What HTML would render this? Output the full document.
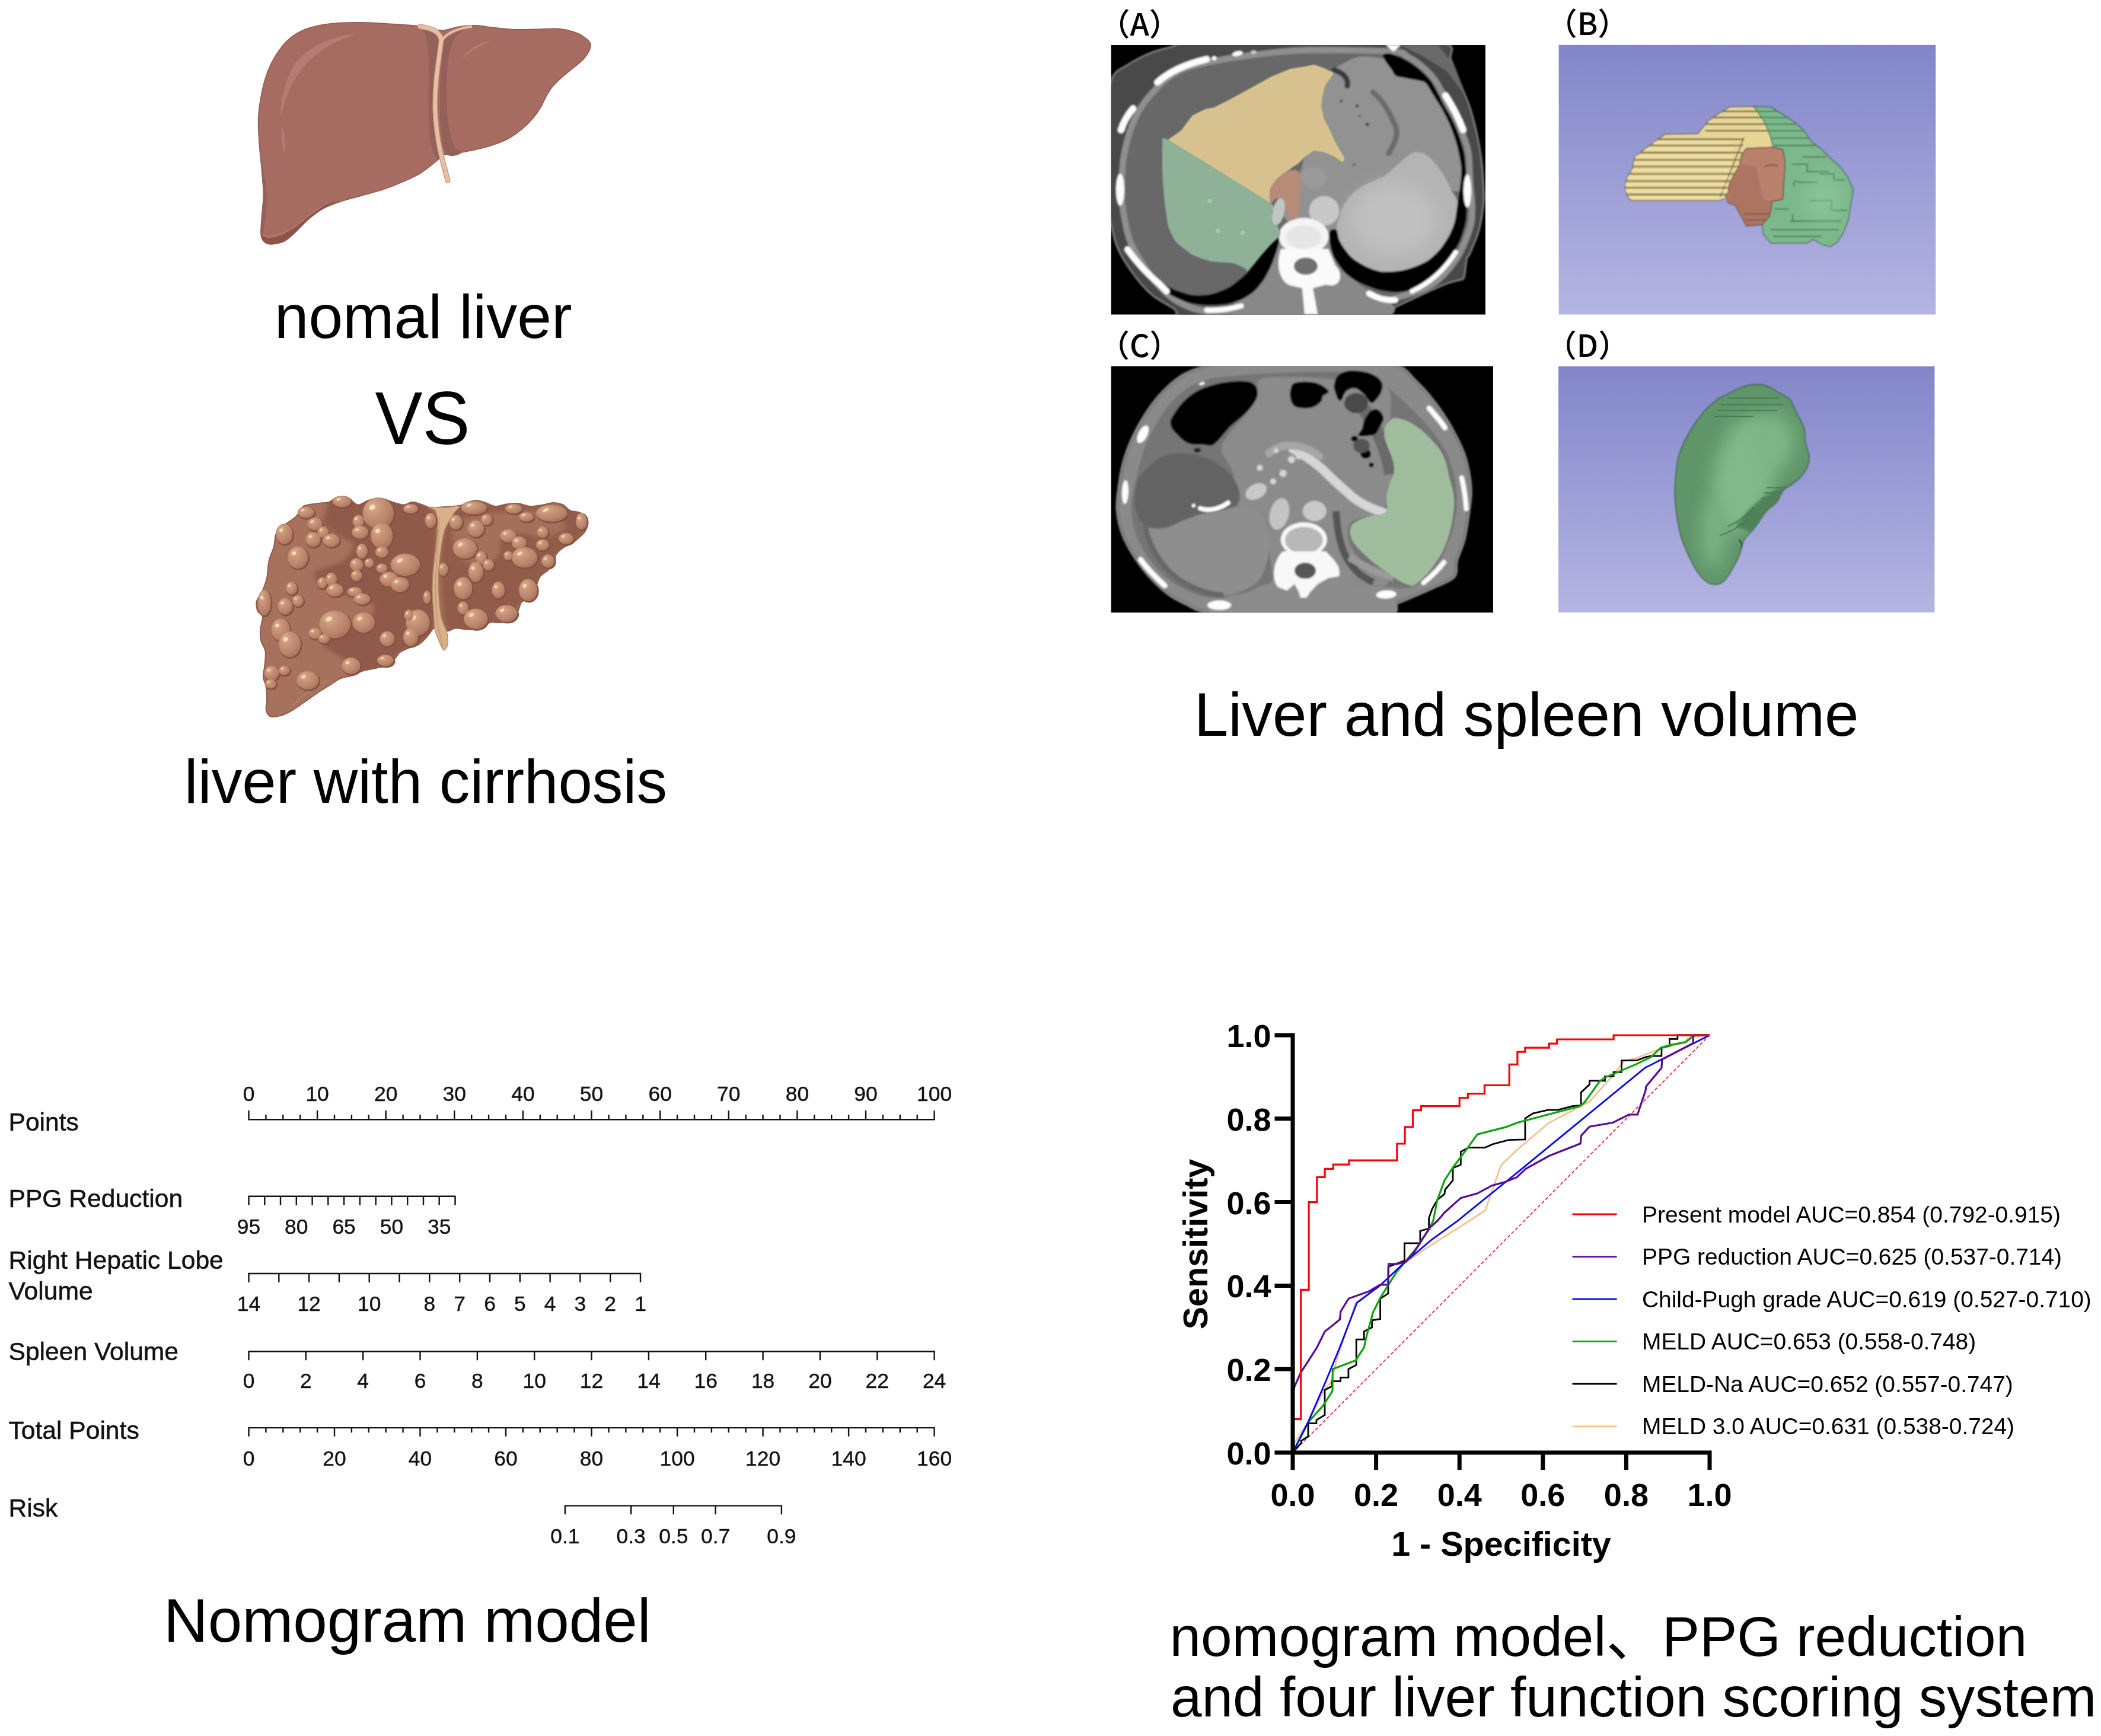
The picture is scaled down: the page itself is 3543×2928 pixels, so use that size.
<!DOCTYPE html>
<html lang="en"><head><meta charset="utf-8"><title>Graphical abstract</title>
<style>html,body{margin:0;padding:0;background:#fff}svg{display:block}</style></head><body>
<svg xmlns="http://www.w3.org/2000/svg" width="3543" height="2928" viewBox="0 0 3543 2928">
<rect width="3543" height="2928" fill="#fff"/>
<defs><filter id="b2" x="-5%" y="-5%" width="110%" height="110%"><feGaussianBlur stdDeviation="5"/></filter><filter id="b1" x="-5%" y="-5%" width="110%" height="110%"><feGaussianBlur stdDeviation="2.5"/></filter><filter id="b4" x="-20%" y="-20%" width="140%" height="140%"><feGaussianBlur stdDeviation="12"/></filter><filter id="b8" x="-30%" y="-30%" width="160%" height="160%"><feGaussianBlur stdDeviation="28"/></filter><filter id="c2" x="-5%" y="-5%" width="110%" height="110%"><feGaussianBlur stdDeviation="1.7"/></filter><filter id="c1" x="-5%" y="-5%" width="110%" height="110%"><feGaussianBlur stdDeviation="0.9"/></filter><filter id="c6" x="-40%" y="-40%" width="180%" height="180%"><feGaussianBlur stdDeviation="14"/></filter><clipPath id="cpA"><rect x="123" y="215" width="1795" height="1320"/></clipPath><clipPath id="cpC"><rect x="123" y="218" width="1830" height="1182"/></clipPath><linearGradient id="sky" x1="0" y1="0" x2="0" y2="1"><stop offset="0" stop-color="#8286c9"/><stop offset="1" stop-color="#b4b5e2"/></linearGradient></defs>
<g transform="translate(400,0) scale(0.30462)">
<path d="M572,126.7C611,124 646,123.3 689,124C732,124.7 783.2,128.2 830,131C876.8,133.8 934.2,137.2 970,140.5C1005.8,143.8 1017.3,146.4 1045,151C1072.7,155.6 1105.7,168.5 1136,168C1166.3,167.5 1196.7,152.6 1227,148C1257.3,143.4 1287.8,140 1318,140.5C1348.2,141 1372.7,147.2 1408,151C1443.3,154.8 1489.7,161.2 1530,163C1570.3,164.8 1609.7,162.7 1650,162C1690.3,161.3 1736.7,156.3 1772,158.6C1807.3,160.8 1836.8,167.6 1862,175.5C1887.2,183.4 1907.3,194.9 1923,206C1938.7,217.1 1952,228.9 1956,242C1960,255.1 1953.5,270.3 1947,284.5C1940.5,298.7 1931.2,311.9 1917,327C1902.8,342.1 1881.2,358.8 1862,375C1842.8,391.2 1821.2,406.8 1802,424C1782.8,441.2 1762.2,459.8 1747,478C1731.8,496.2 1722,513.8 1711,533C1700,552.2 1693.2,572.8 1681,593C1668.8,613.2 1655.2,633.8 1638,654C1620.8,674.2 1601.2,694.8 1578,714C1554.8,733.2 1527.3,753.8 1499,769C1470.7,784.2 1438.2,795 1408,805C1377.8,815 1348.2,822 1318,829C1287.8,836 1249.3,842.3 1227,847C1204.7,851.7 1198.5,855.2 1184,857C1169.5,858.8 1153.2,852.5 1140,858C1126.8,863.5 1125.3,873.5 1105,890C1084.7,906.5 1048.3,938 1018,957C987.7,976 958.3,988.5 923,1004C887.7,1019.5 845,1036.8 806,1050C767,1063.2 728,1072 689,1083C650,1094 607.2,1104.2 572,1116C536.8,1127.8 506.8,1138.3 478,1154C449.2,1169.7 424.8,1188.2 399,1210C373.2,1231.8 345,1264.7 323,1285C301,1305.3 285.7,1321.2 267,1332C248.3,1342.8 227.3,1347 211,1350C194.7,1353 180.8,1353.8 169,1350C157.2,1346.2 146.3,1337 140,1327C133.7,1317 131.7,1311.8 131,1290C130.3,1268.2 133.7,1231.3 136,1196C138.3,1160.7 145,1121 145,1078C145,1035 139.8,984.8 136,938C132.2,891.2 125.2,843.8 122,797C118.8,750.2 115.5,700 117,657C118.5,614 123.9,578.2 131,539C138.1,499.8 147,458.7 159.5,422C172,385.3 186.4,351.8 206,319C225.6,286.2 251.2,250 277,225C302.8,200 331.3,183.1 361,169C390.7,154.9 419.8,147.6 455,140.5C490.2,133.4 533,129.4 572,126.7Z" fill="#a66c61" stroke="#94594f" stroke-width="5"/>
<path d="M136,1300C141.8,1298.5 157.7,1317.2 175,1318C192.3,1318.8 217.5,1314.3 240,1305C262.5,1295.7 285,1280.3 310,1262C335,1243.7 363.3,1214.5 390,1195C416.7,1175.5 441.7,1158.8 470,1145C498.3,1131.2 558.7,1110.5 560,1112C561.3,1113.5 504.8,1137.7 478,1154C451.2,1170.3 424.8,1188.2 399,1210C373.2,1231.8 345,1264.7 323,1285C301,1305.3 285.7,1321.2 267,1332C248.3,1342.8 227.3,1347 211,1350C194.7,1353 180.8,1353.8 169,1350C157.2,1346.2 145.5,1335.3 140,1327C134.5,1318.7 130.2,1301.5 136,1300Z" fill="#8f524b"/>
<path d="M136,1300C175,1318 240,1305 310,1262C360,1225 420,1170 470,1145" fill="none" stroke="#b77b72" stroke-width="6"/>
<path d="M122,800C135,900 160,1000 165,1100C160,1200 150,1260 140,1310C130,1280 136,1196 145,1078C140,980 126,880 122,800Z" fill="#98605a"/>
<path d="M1000,144C992.5,147.7 1029.7,159 1040,190C1050.3,221 1058.7,275 1062,330C1065.3,385 1060,455 1060,520C1060,585 1057.8,666.7 1062,720C1066.2,773.3 1075.3,814.7 1085,840C1094.7,865.3 1115.5,895.3 1120,872C1124.5,848.7 1115.7,762 1112,700C1108.3,638 1099.3,561.7 1098,500C1096.7,438.3 1100,375.8 1104,330C1108,284.2 1125.2,252 1122,225C1118.8,198 1105.3,181.5 1085,168C1064.7,154.5 1007.5,140.3 1000,144Z" fill="#94605a"/>
<path d="M1146,230C1135.7,265 1132,338.3 1128,400C1124,461.7 1120.8,536.7 1122,600C1123.2,663.3 1127.3,736.7 1135,780C1142.7,823.3 1150.5,849 1168,860C1185.5,871 1235.5,856 1240,846C1244.5,836 1207.5,832.7 1195,800C1182.5,767.3 1170.8,708.3 1165,650C1159.2,591.7 1158.3,510 1160,450C1161.7,390 1166.7,330.8 1175,290C1183.3,249.2 1195.5,226.7 1210,205C1224.5,183.3 1265.3,162.5 1262,160C1258.7,157.5 1209.3,178.3 1190,190C1170.7,201.7 1156.3,195 1146,230Z" fill="#94605a"/>
<path d="M661,188C525,200 400,255 325,345C270,430 240,540 242,650C262,545 300,455 360,380C430,295 530,230 661,188Z" fill="#b67c73"/>
<path d="M248,700C262,740 268,800 262,850C250,810 244,750 248,700Z" fill="#b67c73"/>
<path d="M1405,228C1335,235 1270,275 1245,330C1282,288 1338,252 1405,228Z" fill="#b67c73"/>
<path d="M1012,147C1070,155 1122,172 1130,222C1118,330 1092,450 1096,605C1100,730 1124,850 1150,940L1166,1000" fill="none" stroke="#c2917a" stroke-width="29" stroke-linecap="round"/>
<path d="M1300,147C1240,153 1168,174 1134,222" fill="none" stroke="#c2917a" stroke-width="18" stroke-linecap="butt"/>
<path d="M1012,147C1070,155 1122,172 1130,222C1118,330 1092,450 1096,605C1100,730 1124,850 1150,940L1166,1000" fill="none" stroke="#e6c0a4" stroke-width="21" stroke-linecap="round"/>
<path d="M1300,147C1240,153 1168,174 1134,222" fill="none" stroke="#e6c0a4" stroke-width="10" stroke-linecap="butt"/>
</g>
<defs><radialGradient id="nod" cx="0.38" cy="0.34" r="0.72" fx="0.3" fy="0.26"><stop offset="0" stop-color="#dcae8e"/><stop offset="0.35" stop-color="#c99679"/><stop offset="0.75" stop-color="#b9846b"/><stop offset="1" stop-color="#a5705b"/></radialGradient><clipPath id="cl2"><path d="M557,125.2C575.6,122.6 602,129.9 620.6,137.1C639.1,144.4 651,167.6 668.2,168.9C685.4,170.2 702.6,151 723.8,145.1C745,139.1 772.8,131.8 795.3,133.2C817.8,134.5 837.7,147.1 858.8,153C880,159 903.8,168.9 922.4,168.9C940.9,168.9 952.8,153 970,153C987.2,153 1009.7,163.6 1025.6,168.9C1041.5,174.2 1058.7,182.1 1065.3,184.8C1072,187.4 1053.4,185.5 1065.3,184.8C1077.2,184.1 1109,182.8 1136.8,180.8C1164.6,178.8 1208.3,177.5 1232.1,172.9C1255.9,168.2 1263.9,157.7 1279.8,153C1295.6,148.4 1311.5,144.4 1327.4,145.1C1343.3,145.7 1357.9,151.7 1375.1,157C1392.3,162.3 1410.8,175.5 1430.7,176.9C1450.5,178.2 1473,167.6 1494.2,164.9C1515.4,162.3 1536.6,159 1557.7,161C1578.9,163 1598.8,175.5 1621.3,176.9C1643.8,178.2 1671.6,172.2 1692.8,168.9C1713.9,165.6 1729.8,157 1748.4,157C1766.9,157 1788.1,161.6 1804,168.9C1819.8,176.2 1827.8,193.4 1843.7,200.7C1859.6,208 1884.7,205.3 1899.3,212.6C1913.8,219.9 1924.4,233.1 1931,244.4C1937.7,255.6 1940.3,267.5 1939,280.1C1937.7,292.7 1931,307.9 1923.1,319.8C1915.2,331.7 1903.2,341 1891.3,351.6C1879.4,362.2 1866.2,374.1 1851.6,383.4C1837.1,392.6 1818.5,396.6 1804,407.2C1789.4,417.8 1772.2,432.3 1764.2,446.9C1756.3,461.5 1764.2,480 1756.3,494.5C1748.4,509.1 1729.8,522.3 1716.6,534.3C1703.4,546.2 1687.5,551.5 1676.9,566C1666.3,580.6 1662.3,603.1 1653.1,621.6C1643.8,640.2 1634.5,662.7 1621.3,677.2C1608,691.8 1584.2,697.1 1573.6,709C1563,720.9 1565.7,734.1 1557.7,748.7C1549.8,763.3 1541.9,784.4 1526,796.4C1510.1,808.3 1483.6,816.2 1462.4,820.2C1441.3,824.2 1416.1,814.9 1398.9,820.2C1381.7,825.5 1379,845.3 1359.2,852C1339.3,858.6 1304.9,859.9 1279.8,859.9C1254.6,859.9 1226.8,850.6 1208.3,852C1189.7,853.3 1183.9,865.2 1168.6,867.8C1153.2,870.5 1129.4,870.5 1116.2,867.8C1102.9,865.2 1099,848 1089.2,852C1079.4,855.9 1070.6,877.1 1057.4,891.7C1044.2,906.2 1028.3,927.4 1009.7,939.3C991.2,951.2 964.7,955.2 946.2,963.2C927.7,971.1 910.5,977.7 898.6,987C886.6,996.2 886.6,1006.8 874.7,1018.7C862.8,1030.7 845.6,1049.2 827.1,1058.5C808.5,1067.7 786,1069 763.5,1074.3C741,1079.6 713.2,1083.6 692,1090.2C670.9,1096.8 656.3,1107.4 636.5,1114.1C616.6,1120.7 594.1,1120.7 572.9,1129.9C551.7,1139.2 530.6,1156.4 509.4,1169.7C488.2,1182.9 469.7,1193.5 445.8,1209.4C422,1225.3 391.6,1247.8 366.4,1265C341.3,1282.2 316.1,1300.7 294.9,1312.6C273.7,1324.5 257.9,1331.8 239.3,1336.4C220.8,1341.1 197,1345.7 183.7,1340.4C170.5,1335.1 163.2,1318.6 159.9,1304.7C156.6,1290.8 163.9,1278.2 163.9,1257C163.9,1235.8 163.2,1200.1 159.9,1177.6C156.6,1155.1 145.3,1141.9 144,1122C142.7,1102.1 150,1082.3 152,1058.5C154,1034.6 159.2,1001.5 155.9,979C152.6,956.5 136.7,943.3 132.1,923.4C127.5,903.6 126.8,882.4 128.1,859.9C129.5,837.4 142.7,805.6 140.1,788.4C137.4,771.2 117.5,771.2 112.3,756.6C107,742.1 104.3,718.3 108.3,701.1C112.3,683.8 126.8,674.6 136.1,653.4C145.3,632.2 157.3,603.1 163.9,574C170.5,544.9 169.2,507.8 175.8,478.7C182.4,449.5 197,424.4 203.6,399.2C210.2,374.1 205.6,347.6 215.5,327.8C225.4,307.9 244.6,296 263.2,280.1C281.7,264.2 309.5,249.7 326.7,232.5C343.9,215.2 346.6,188.8 366.4,176.9C386.3,164.9 422,164.9 445.8,161C469.7,157 490.8,159 509.4,153C527.9,147.1 538.5,127.9 557,125.2Z"/></clipPath></defs>
<g transform="translate(400,800) scale(0.30462)">
<path d="M557,125.2C575.6,122.6 602,129.9 620.6,137.1C639.1,144.4 651,167.6 668.2,168.9C685.4,170.2 702.6,151 723.8,145.1C745,139.1 772.8,131.8 795.3,133.2C817.8,134.5 837.7,147.1 858.8,153C880,159 903.8,168.9 922.4,168.9C940.9,168.9 952.8,153 970,153C987.2,153 1009.7,163.6 1025.6,168.9C1041.5,174.2 1058.7,182.1 1065.3,184.8C1072,187.4 1053.4,185.5 1065.3,184.8C1077.2,184.1 1109,182.8 1136.8,180.8C1164.6,178.8 1208.3,177.5 1232.1,172.9C1255.9,168.2 1263.9,157.7 1279.8,153C1295.6,148.4 1311.5,144.4 1327.4,145.1C1343.3,145.7 1357.9,151.7 1375.1,157C1392.3,162.3 1410.8,175.5 1430.7,176.9C1450.5,178.2 1473,167.6 1494.2,164.9C1515.4,162.3 1536.6,159 1557.7,161C1578.9,163 1598.8,175.5 1621.3,176.9C1643.8,178.2 1671.6,172.2 1692.8,168.9C1713.9,165.6 1729.8,157 1748.4,157C1766.9,157 1788.1,161.6 1804,168.9C1819.8,176.2 1827.8,193.4 1843.7,200.7C1859.6,208 1884.7,205.3 1899.3,212.6C1913.8,219.9 1924.4,233.1 1931,244.4C1937.7,255.6 1940.3,267.5 1939,280.1C1937.7,292.7 1931,307.9 1923.1,319.8C1915.2,331.7 1903.2,341 1891.3,351.6C1879.4,362.2 1866.2,374.1 1851.6,383.4C1837.1,392.6 1818.5,396.6 1804,407.2C1789.4,417.8 1772.2,432.3 1764.2,446.9C1756.3,461.5 1764.2,480 1756.3,494.5C1748.4,509.1 1729.8,522.3 1716.6,534.3C1703.4,546.2 1687.5,551.5 1676.9,566C1666.3,580.6 1662.3,603.1 1653.1,621.6C1643.8,640.2 1634.5,662.7 1621.3,677.2C1608,691.8 1584.2,697.1 1573.6,709C1563,720.9 1565.7,734.1 1557.7,748.7C1549.8,763.3 1541.9,784.4 1526,796.4C1510.1,808.3 1483.6,816.2 1462.4,820.2C1441.3,824.2 1416.1,814.9 1398.9,820.2C1381.7,825.5 1379,845.3 1359.2,852C1339.3,858.6 1304.9,859.9 1279.8,859.9C1254.6,859.9 1226.8,850.6 1208.3,852C1189.7,853.3 1183.9,865.2 1168.6,867.8C1153.2,870.5 1129.4,870.5 1116.2,867.8C1102.9,865.2 1099,848 1089.2,852C1079.4,855.9 1070.6,877.1 1057.4,891.7C1044.2,906.2 1028.3,927.4 1009.7,939.3C991.2,951.2 964.7,955.2 946.2,963.2C927.7,971.1 910.5,977.7 898.6,987C886.6,996.2 886.6,1006.8 874.7,1018.7C862.8,1030.7 845.6,1049.2 827.1,1058.5C808.5,1067.7 786,1069 763.5,1074.3C741,1079.6 713.2,1083.6 692,1090.2C670.9,1096.8 656.3,1107.4 636.5,1114.1C616.6,1120.7 594.1,1120.7 572.9,1129.9C551.7,1139.2 530.6,1156.4 509.4,1169.7C488.2,1182.9 469.7,1193.5 445.8,1209.4C422,1225.3 391.6,1247.8 366.4,1265C341.3,1282.2 316.1,1300.7 294.9,1312.6C273.7,1324.5 257.9,1331.8 239.3,1336.4C220.8,1341.1 197,1345.7 183.7,1340.4C170.5,1335.1 163.2,1318.6 159.9,1304.7C156.6,1290.8 163.9,1278.2 163.9,1257C163.9,1235.8 163.2,1200.1 159.9,1177.6C156.6,1155.1 145.3,1141.9 144,1122C142.7,1102.1 150,1082.3 152,1058.5C154,1034.6 159.2,1001.5 155.9,979C152.6,956.5 136.7,943.3 132.1,923.4C127.5,903.6 126.8,882.4 128.1,859.9C129.5,837.4 142.7,805.6 140.1,788.4C137.4,771.2 117.5,771.2 112.3,756.6C107,742.1 104.3,718.3 108.3,701.1C112.3,683.8 126.8,674.6 136.1,653.4C145.3,632.2 157.3,603.1 163.9,574C170.5,544.9 169.2,507.8 175.8,478.7C182.4,449.5 197,424.4 203.6,399.2C210.2,374.1 205.6,347.6 215.5,327.8C225.4,307.9 244.6,296 263.2,280.1C281.7,264.2 309.5,249.7 326.7,232.5C343.9,215.2 346.6,188.8 366.4,176.9C386.3,164.9 422,164.9 445.8,161C469.7,157 490.8,159 509.4,153C527.9,147.1 538.5,127.9 557,125.2Z" fill="#a6725d" stroke="#8f5b48" stroke-width="6"/>
<g clip-path="url(#cl2)">
<path d="M509.4,141.1C550.4,130.5 655,114 747.6,121.3C840.3,128.5 1007.1,114.6 1065.3,184.8C1123.6,255 1093.1,431 1097.1,542.2C1101.1,653.4 1095.8,793.7 1089.2,852C1082.6,910.2 1070.6,877.1 1057.4,891.7C1044.2,906.2 1036.2,923.4 1009.7,939.3C983.3,955.2 929,967.1 898.6,987C868.1,1006.8 861.5,1041.3 827.1,1058.5C792.7,1075.7 731.8,1096.8 692,1090.2C652.3,1083.6 624.5,1043.9 588.8,1018.7C553.1,993.6 477.6,965.8 477.6,939.3C477.6,912.8 543.8,886.4 588.8,859.9C633.8,833.4 723.8,807 747.6,780.5C771.5,754 758.2,719.6 731.8,701.1C705.3,682.5 631.2,682.5 588.8,669.3C546.4,656 504.1,642.8 477.6,621.6C451.1,600.4 411.4,566 429.9,542.2C448.5,518.4 554.4,505.1 588.8,478.7C623.2,452.2 644.4,408.5 636.5,383.4C628.5,358.2 567.6,347.6 541.1,327.8C514.7,307.9 484.2,288 477.6,264.2C471,240.4 496.1,205.3 501.4,184.8C506.7,164.3 468.3,151.7 509.4,141.1Z" fill="#8f5a48" filter="url(#b4)"/>
<path d="M1168.6,192.7C1189.7,168.9 1212.2,164.9 1279.8,161C1347.3,157 1484.9,166.3 1573.6,168.9C1662.3,171.6 1752.3,163.6 1811.9,176.9C1871.5,190.1 1917.8,219.2 1931,248.3C1944.3,277.5 1919.1,318.5 1891.3,351.6C1863.5,384.7 1793.4,416.4 1764.2,446.9C1735.1,477.3 1735.1,505.1 1716.6,534.3C1698.1,563.4 1676.9,592.5 1653.1,621.6C1629.2,650.8 1605.4,675.9 1573.6,709C1541.9,742.1 1511.4,795 1462.4,820.2C1413.5,845.3 1328.7,852 1279.8,859.9C1230.8,867.8 1192.4,894.3 1168.6,867.8C1144.7,841.4 1143.4,768.6 1136.8,701.1C1130.2,633.5 1126.2,529 1128.9,462.8C1131.5,396.6 1146.1,348.9 1152.7,303.9C1159.3,258.9 1147.4,216.6 1168.6,192.7Z" fill="#915c49" filter="url(#b4)"/>
<path d="M1200.3,272.2C1222.8,245.7 1273.1,236.4 1335.4,224.5C1397.6,212.6 1500.8,200.7 1573.6,200.7C1646.4,200.7 1732.5,207.3 1772.2,224.5C1811.9,241.7 1825.1,282.8 1811.9,303.9C1798.7,325.1 1732.5,347.6 1692.8,351.6C1653.1,355.6 1612,325.1 1573.6,327.8C1535.2,330.4 1483.6,347.6 1462.4,367.5C1441.3,387.3 1465.1,423.1 1446.5,446.9C1428,470.7 1383,505.1 1351.2,510.4C1319.5,515.7 1281.1,499.8 1255.9,478.7C1230.8,457.5 1209.6,417.8 1200.3,383.4C1191.1,348.9 1177.8,298.6 1200.3,272.2Z" fill="#a36f5a" filter="url(#b4)"/>
<path d="M300,1290C350,1230 420,1180 500,1140" stroke="#b58069" stroke-width="5" fill="none"/>
</g>
<path d="M1062,182C1056.2,184.4 1094.6,191.2 1100,205C1105.4,218.8 1108.2,274.9 1108,300C1107.8,325.1 1100.8,392 1098,420C1095.2,448 1086.1,512 1084,540C1081.9,568 1079.5,632 1080,660C1080.5,688 1086.4,756.7 1088,780C1089.6,803.3 1090.3,842.5 1094,860C1097.7,877.5 1114.9,917.4 1120,930C1125.1,942.6 1134.5,963.1 1138,968C1141.5,972.9 1146.7,975.3 1150,972C1153.3,968.7 1164.6,950.7 1166,940C1167.4,929.3 1166,896.3 1162,880C1158,863.7 1137.1,821 1132,800C1126.9,779 1120.1,728 1118,700C1115.9,672 1113.1,591.5 1114,560C1114.9,528.5 1122,459.2 1126,430C1130,400.8 1139.4,335.1 1148,310C1156.6,284.9 1190.2,230.6 1200,215C1209.8,199.4 1237.8,179.6 1232,176C1226.2,172.4 1169.8,183.3 1150,184C1130.2,184.7 1067.8,179.6 1062,182Z" fill="#d9b089" stroke="#b0835f" stroke-width="4"/>
<path d="M1120,230C1112,400 1096,520 1098,660C1100,780 1112,880 1140,950" stroke="#c69a74" stroke-width="6" fill="none"/>
<ellipse cx="785" cy="221" rx="90" ry="90" fill="#87523f"/>
<ellipse cx="585" cy="156" rx="55" ry="35" fill="#87523f"/>
<ellipse cx="385" cy="216" rx="50" ry="35" fill="#87523f"/>
<ellipse cx="965" cy="196" rx="45" ry="30" fill="#87523f"/>
<ellipse cx="265" cy="336" rx="50" ry="60" fill="#87523f"/>
<ellipse cx="435" cy="281" rx="45" ry="40" fill="#87523f"/>
<ellipse cx="425" cy="366" rx="45" ry="45" fill="#87523f"/>
<ellipse cx="480" cy="326" rx="35" ry="35" fill="#87523f"/>
<ellipse cx="525" cy="371" rx="50" ry="40" fill="#87523f"/>
<ellipse cx="675" cy="266" rx="35" ry="40" fill="#87523f"/>
<ellipse cx="685" cy="326" rx="50" ry="40" fill="#87523f"/>
<ellipse cx="805" cy="346" rx="65" ry="75" fill="#87523f"/>
<ellipse cx="1075" cy="261" rx="35" ry="45" fill="#87523f"/>
<ellipse cx="340" cy="466" rx="60" ry="65" fill="#87523f"/>
<ellipse cx="695" cy="431" rx="35" ry="45" fill="#87523f"/>
<ellipse cx="665" cy="506" rx="40" ry="40" fill="#87523f"/>
<ellipse cx="735" cy="496" rx="30" ry="30" fill="#87523f"/>
<ellipse cx="805" cy="436" rx="40" ry="35" fill="#87523f"/>
<ellipse cx="935" cy="506" rx="85" ry="65" fill="#87523f"/>
<ellipse cx="805" cy="526" rx="35" ry="30" fill="#87523f"/>
<ellipse cx="845" cy="586" rx="55" ry="45" fill="#87523f"/>
<ellipse cx="905" cy="616" rx="55" ry="45" fill="#87523f"/>
<ellipse cx="665" cy="566" rx="35" ry="35" fill="#87523f"/>
<ellipse cx="525" cy="586" rx="35" ry="40" fill="#87523f"/>
<ellipse cx="475" cy="606" rx="30" ry="35" fill="#87523f"/>
<ellipse cx="545" cy="646" rx="50" ry="40" fill="#87523f"/>
<ellipse cx="655" cy="656" rx="45" ry="30" fill="#87523f"/>
<ellipse cx="695" cy="696" rx="50" ry="35" fill="#87523f"/>
<ellipse cx="305" cy="636" rx="35" ry="40" fill="#87523f"/>
<ellipse cx="155" cy="716" rx="40" ry="75" fill="#87523f"/>
<ellipse cx="270" cy="736" rx="45" ry="50" fill="#87523f"/>
<ellipse cx="340" cy="706" rx="35" ry="35" fill="#87523f"/>
<ellipse cx="245" cy="866" rx="55" ry="65" fill="#87523f"/>
<ellipse cx="295" cy="946" rx="65" ry="75" fill="#87523f"/>
<ellipse cx="545" cy="836" rx="90" ry="80" fill="#87523f"/>
<ellipse cx="705" cy="826" rx="65" ry="60" fill="#87523f"/>
<ellipse cx="435" cy="886" rx="40" ry="35" fill="#87523f"/>
<ellipse cx="485" cy="916" rx="35" ry="30" fill="#87523f"/>
<ellipse cx="835" cy="916" rx="45" ry="45" fill="#87523f"/>
<ellipse cx="1005" cy="826" rx="70" ry="75" fill="#87523f"/>
<ellipse cx="955" cy="786" rx="30" ry="35" fill="#87523f"/>
<ellipse cx="965" cy="906" rx="45" ry="55" fill="#87523f"/>
<ellipse cx="1055" cy="686" rx="25" ry="40" fill="#87523f"/>
<ellipse cx="635" cy="1066" rx="55" ry="50" fill="#87523f"/>
<ellipse cx="825" cy="1036" rx="50" ry="35" fill="#87523f"/>
<ellipse cx="195" cy="1106" rx="45" ry="45" fill="#87523f"/>
<ellipse cx="265" cy="1091" rx="35" ry="30" fill="#87523f"/>
<ellipse cx="395" cy="1146" rx="65" ry="55" fill="#87523f"/>
<ellipse cx="190" cy="1166" rx="35" ry="30" fill="#87523f"/>
<ellipse cx="1315" cy="191" rx="75" ry="40" fill="#87523f"/>
<ellipse cx="1215" cy="271" rx="40" ry="45" fill="#87523f"/>
<ellipse cx="1325" cy="306" rx="50" ry="50" fill="#87523f"/>
<ellipse cx="1385" cy="256" rx="35" ry="35" fill="#87523f"/>
<ellipse cx="1535" cy="196" rx="50" ry="30" fill="#87523f"/>
<ellipse cx="1605" cy="241" rx="45" ry="30" fill="#87523f"/>
<ellipse cx="1745" cy="221" rx="90" ry="50" fill="#87523f"/>
<ellipse cx="1910" cy="266" rx="35" ry="50" fill="#87523f"/>
<ellipse cx="1265" cy="416" rx="70" ry="60" fill="#87523f"/>
<ellipse cx="1355" cy="466" rx="35" ry="40" fill="#87523f"/>
<ellipse cx="1505" cy="346" rx="50" ry="40" fill="#87523f"/>
<ellipse cx="1565" cy="386" rx="45" ry="40" fill="#87523f"/>
<ellipse cx="1595" cy="466" rx="75" ry="60" fill="#87523f"/>
<ellipse cx="1695" cy="326" rx="35" ry="35" fill="#87523f"/>
<ellipse cx="1695" cy="396" rx="40" ry="35" fill="#87523f"/>
<ellipse cx="1825" cy="361" rx="45" ry="35" fill="#87523f"/>
<ellipse cx="1725" cy="486" rx="40" ry="40" fill="#87523f"/>
<ellipse cx="1145" cy="531" rx="30" ry="40" fill="#87523f"/>
<ellipse cx="1325" cy="546" rx="45" ry="60" fill="#87523f"/>
<ellipse cx="1395" cy="506" rx="35" ry="35" fill="#87523f"/>
<ellipse cx="1255" cy="636" rx="55" ry="65" fill="#87523f"/>
<ellipse cx="1450" cy="646" rx="40" ry="50" fill="#87523f"/>
<ellipse cx="1615" cy="646" rx="55" ry="65" fill="#87523f"/>
<ellipse cx="1255" cy="746" rx="35" ry="40" fill="#87523f"/>
<ellipse cx="1325" cy="806" rx="70" ry="60" fill="#87523f"/>
<ellipse cx="1495" cy="776" rx="65" ry="50" fill="#87523f"/>
<ellipse cx="1505" cy="456" rx="30" ry="30" fill="#87523f"/>
<ellipse cx="780" cy="215" rx="85" ry="85" fill="url(#nod)" stroke="#b78468" stroke-width="3"/>
<ellipse cx="747.7" cy="182.7" rx="18.7" ry="13.6" fill="#f4ddb5" transform="rotate(-30 747.7 182.7)"/>
<ellipse cx="580" cy="150" rx="50" ry="30" fill="url(#nod)" stroke="#b78468" stroke-width="3"/>
<ellipse cx="561" cy="138.6" rx="11" ry="4.8" fill="#f4ddb5" transform="rotate(-30 561 138.6)"/>
<ellipse cx="380" cy="210" rx="45" ry="30" fill="url(#nod)" stroke="#b78468" stroke-width="3"/>
<ellipse cx="362.9" cy="198.6" rx="9.9" ry="4.8" fill="#f4ddb5" transform="rotate(-30 362.9 198.6)"/>
<ellipse cx="960" cy="190" rx="40" ry="25" fill="url(#nod)" stroke="#b78468" stroke-width="3"/>
<ellipse cx="944.8" cy="180.5" rx="8.8" ry="4" fill="#f4ddb5" transform="rotate(-30 944.8 180.5)"/>
<ellipse cx="260" cy="330" rx="45" ry="55" fill="url(#nod)" stroke="#b78468" stroke-width="3"/>
<ellipse cx="242.9" cy="309.1" rx="9.9" ry="8.8" fill="#f4ddb5" transform="rotate(-30 242.9 309.1)"/>
<ellipse cx="430" cy="275" rx="40" ry="35" fill="url(#nod)" stroke="#b78468" stroke-width="3"/>
<ellipse cx="414.8" cy="261.7" rx="8.8" ry="5.6" fill="#f4ddb5" transform="rotate(-30 414.8 261.7)"/>
<ellipse cx="420" cy="360" rx="40" ry="40" fill="url(#nod)" stroke="#b78468" stroke-width="3"/>
<ellipse cx="404.8" cy="344.8" rx="8.8" ry="6.4" fill="#f4ddb5" transform="rotate(-30 404.8 344.8)"/>
<ellipse cx="475" cy="320" rx="30" ry="30" fill="url(#nod)" stroke="#b78468" stroke-width="3"/>
<ellipse cx="463.6" cy="308.6" rx="6.6" ry="4.8" fill="#f4ddb5" transform="rotate(-30 463.6 308.6)"/>
<ellipse cx="520" cy="365" rx="45" ry="35" fill="url(#nod)" stroke="#b78468" stroke-width="3"/>
<ellipse cx="502.9" cy="351.7" rx="9.9" ry="5.6" fill="#f4ddb5" transform="rotate(-30 502.9 351.7)"/>
<ellipse cx="670" cy="260" rx="30" ry="35" fill="url(#nod)" stroke="#b78468" stroke-width="3"/>
<ellipse cx="658.6" cy="246.7" rx="6.6" ry="5.6" fill="#f4ddb5" transform="rotate(-30 658.6 246.7)"/>
<ellipse cx="680" cy="320" rx="45" ry="35" fill="url(#nod)" stroke="#b78468" stroke-width="3"/>
<ellipse cx="662.9" cy="306.7" rx="9.9" ry="5.6" fill="#f4ddb5" transform="rotate(-30 662.9 306.7)"/>
<ellipse cx="800" cy="340" rx="60" ry="70" fill="url(#nod)" stroke="#b78468" stroke-width="3"/>
<ellipse cx="777.2" cy="313.4" rx="13.2" ry="11.2" fill="#f4ddb5" transform="rotate(-30 777.2 313.4)"/>
<ellipse cx="1070" cy="255" rx="30" ry="40" fill="url(#nod)" stroke="#b78468" stroke-width="3"/>
<ellipse cx="1058.6" cy="239.8" rx="6.6" ry="6.4" fill="#f4ddb5" transform="rotate(-30 1058.6 239.8)"/>
<ellipse cx="335" cy="460" rx="55" ry="60" fill="url(#nod)" stroke="#b78468" stroke-width="3"/>
<ellipse cx="314.1" cy="437.2" rx="12.1" ry="9.6" fill="#f4ddb5" transform="rotate(-30 314.1 437.2)"/>
<ellipse cx="690" cy="425" rx="30" ry="40" fill="url(#nod)" stroke="#b78468" stroke-width="3"/>
<ellipse cx="678.6" cy="409.8" rx="6.6" ry="6.4" fill="#f4ddb5" transform="rotate(-30 678.6 409.8)"/>
<ellipse cx="660" cy="500" rx="35" ry="35" fill="url(#nod)" stroke="#b78468" stroke-width="3"/>
<ellipse cx="646.7" cy="486.7" rx="7.7" ry="5.6" fill="#f4ddb5" transform="rotate(-30 646.7 486.7)"/>
<ellipse cx="730" cy="490" rx="25" ry="25" fill="url(#nod)" stroke="#b78468" stroke-width="3"/>
<ellipse cx="720.5" cy="480.5" rx="5.5" ry="4" fill="#f4ddb5" transform="rotate(-30 720.5 480.5)"/>
<ellipse cx="800" cy="430" rx="35" ry="30" fill="url(#nod)" stroke="#b78468" stroke-width="3"/>
<ellipse cx="786.7" cy="418.6" rx="7.7" ry="4.8" fill="#f4ddb5" transform="rotate(-30 786.7 418.6)"/>
<ellipse cx="930" cy="500" rx="80" ry="60" fill="url(#nod)" stroke="#b78468" stroke-width="3"/>
<ellipse cx="899.6" cy="477.2" rx="17.6" ry="9.6" fill="#f4ddb5" transform="rotate(-30 899.6 477.2)"/>
<ellipse cx="800" cy="520" rx="30" ry="25" fill="url(#nod)" stroke="#b78468" stroke-width="3"/>
<ellipse cx="788.6" cy="510.5" rx="6.6" ry="4" fill="#f4ddb5" transform="rotate(-30 788.6 510.5)"/>
<ellipse cx="840" cy="580" rx="50" ry="40" fill="url(#nod)" stroke="#b78468" stroke-width="3"/>
<ellipse cx="821" cy="564.8" rx="11" ry="6.4" fill="#f4ddb5" transform="rotate(-30 821 564.8)"/>
<ellipse cx="900" cy="610" rx="50" ry="40" fill="url(#nod)" stroke="#b78468" stroke-width="3"/>
<ellipse cx="881" cy="594.8" rx="11" ry="6.4" fill="#f4ddb5" transform="rotate(-30 881 594.8)"/>
<ellipse cx="660" cy="560" rx="30" ry="30" fill="url(#nod)" stroke="#b78468" stroke-width="3"/>
<ellipse cx="648.6" cy="548.6" rx="6.6" ry="4.8" fill="#f4ddb5" transform="rotate(-30 648.6 548.6)"/>
<ellipse cx="520" cy="580" rx="30" ry="35" fill="url(#nod)" stroke="#b78468" stroke-width="3"/>
<ellipse cx="508.6" cy="566.7" rx="6.6" ry="5.6" fill="#f4ddb5" transform="rotate(-30 508.6 566.7)"/>
<ellipse cx="470" cy="600" rx="25" ry="30" fill="url(#nod)" stroke="#b78468" stroke-width="3"/>
<ellipse cx="460.5" cy="588.6" rx="5.5" ry="4.8" fill="#f4ddb5" transform="rotate(-30 460.5 588.6)"/>
<ellipse cx="540" cy="640" rx="45" ry="35" fill="url(#nod)" stroke="#b78468" stroke-width="3"/>
<ellipse cx="522.9" cy="626.7" rx="9.9" ry="5.6" fill="#f4ddb5" transform="rotate(-30 522.9 626.7)"/>
<ellipse cx="650" cy="650" rx="40" ry="25" fill="url(#nod)" stroke="#b78468" stroke-width="3"/>
<ellipse cx="634.8" cy="640.5" rx="8.8" ry="4" fill="#f4ddb5" transform="rotate(-30 634.8 640.5)"/>
<ellipse cx="690" cy="690" rx="45" ry="30" fill="url(#nod)" stroke="#b78468" stroke-width="3"/>
<ellipse cx="672.9" cy="678.6" rx="9.9" ry="4.8" fill="#f4ddb5" transform="rotate(-30 672.9 678.6)"/>
<ellipse cx="300" cy="630" rx="30" ry="35" fill="url(#nod)" stroke="#b78468" stroke-width="3"/>
<ellipse cx="288.6" cy="616.7" rx="6.6" ry="5.6" fill="#f4ddb5" transform="rotate(-30 288.6 616.7)"/>
<ellipse cx="150" cy="710" rx="35" ry="70" fill="url(#nod)" stroke="#b78468" stroke-width="3"/>
<ellipse cx="136.7" cy="683.4" rx="7.7" ry="11.2" fill="#f4ddb5" transform="rotate(-30 136.7 683.4)"/>
<ellipse cx="265" cy="730" rx="40" ry="45" fill="url(#nod)" stroke="#b78468" stroke-width="3"/>
<ellipse cx="249.8" cy="712.9" rx="8.8" ry="7.2" fill="#f4ddb5" transform="rotate(-30 249.8 712.9)"/>
<ellipse cx="335" cy="700" rx="30" ry="30" fill="url(#nod)" stroke="#b78468" stroke-width="3"/>
<ellipse cx="323.6" cy="688.6" rx="6.6" ry="4.8" fill="#f4ddb5" transform="rotate(-30 323.6 688.6)"/>
<ellipse cx="240" cy="860" rx="50" ry="60" fill="url(#nod)" stroke="#b78468" stroke-width="3"/>
<ellipse cx="221" cy="837.2" rx="11" ry="9.6" fill="#f4ddb5" transform="rotate(-30 221 837.2)"/>
<ellipse cx="290" cy="940" rx="60" ry="70" fill="url(#nod)" stroke="#b78468" stroke-width="3"/>
<ellipse cx="267.2" cy="913.4" rx="13.2" ry="11.2" fill="#f4ddb5" transform="rotate(-30 267.2 913.4)"/>
<ellipse cx="540" cy="830" rx="85" ry="75" fill="url(#nod)" stroke="#b78468" stroke-width="3"/>
<ellipse cx="507.7" cy="801.5" rx="18.7" ry="12" fill="#f4ddb5" transform="rotate(-30 507.7 801.5)"/>
<ellipse cx="700" cy="820" rx="60" ry="55" fill="url(#nod)" stroke="#b78468" stroke-width="3"/>
<ellipse cx="677.2" cy="799.1" rx="13.2" ry="8.8" fill="#f4ddb5" transform="rotate(-30 677.2 799.1)"/>
<ellipse cx="430" cy="880" rx="35" ry="30" fill="url(#nod)" stroke="#b78468" stroke-width="3"/>
<ellipse cx="416.7" cy="868.6" rx="7.7" ry="4.8" fill="#f4ddb5" transform="rotate(-30 416.7 868.6)"/>
<ellipse cx="480" cy="910" rx="30" ry="25" fill="url(#nod)" stroke="#b78468" stroke-width="3"/>
<ellipse cx="468.6" cy="900.5" rx="6.6" ry="4" fill="#f4ddb5" transform="rotate(-30 468.6 900.5)"/>
<ellipse cx="830" cy="910" rx="40" ry="40" fill="url(#nod)" stroke="#b78468" stroke-width="3"/>
<ellipse cx="814.8" cy="894.8" rx="8.8" ry="6.4" fill="#f4ddb5" transform="rotate(-30 814.8 894.8)"/>
<ellipse cx="1000" cy="820" rx="65" ry="70" fill="url(#nod)" stroke="#b78468" stroke-width="3"/>
<ellipse cx="975.3" cy="793.4" rx="14.3" ry="11.2" fill="#f4ddb5" transform="rotate(-30 975.3 793.4)"/>
<ellipse cx="950" cy="780" rx="25" ry="30" fill="url(#nod)" stroke="#b78468" stroke-width="3"/>
<ellipse cx="940.5" cy="768.6" rx="5.5" ry="4.8" fill="#f4ddb5" transform="rotate(-30 940.5 768.6)"/>
<ellipse cx="960" cy="900" rx="40" ry="50" fill="url(#nod)" stroke="#b78468" stroke-width="3"/>
<ellipse cx="944.8" cy="881" rx="8.8" ry="8" fill="#f4ddb5" transform="rotate(-30 944.8 881)"/>
<ellipse cx="1050" cy="680" rx="20" ry="35" fill="url(#nod)" stroke="#b78468" stroke-width="3"/>
<ellipse cx="1042.4" cy="666.7" rx="5" ry="5.6" fill="#f4ddb5" transform="rotate(-30 1042.4 666.7)"/>
<ellipse cx="630" cy="1060" rx="50" ry="45" fill="url(#nod)" stroke="#b78468" stroke-width="3"/>
<ellipse cx="611" cy="1042.9" rx="11" ry="7.2" fill="#f4ddb5" transform="rotate(-30 611 1042.9)"/>
<ellipse cx="820" cy="1030" rx="45" ry="30" fill="url(#nod)" stroke="#b78468" stroke-width="3"/>
<ellipse cx="802.9" cy="1018.6" rx="9.9" ry="4.8" fill="#f4ddb5" transform="rotate(-30 802.9 1018.6)"/>
<ellipse cx="190" cy="1100" rx="40" ry="40" fill="url(#nod)" stroke="#b78468" stroke-width="3"/>
<ellipse cx="174.8" cy="1084.8" rx="8.8" ry="6.4" fill="#f4ddb5" transform="rotate(-30 174.8 1084.8)"/>
<ellipse cx="260" cy="1085" rx="30" ry="25" fill="url(#nod)" stroke="#b78468" stroke-width="3"/>
<ellipse cx="248.6" cy="1075.5" rx="6.6" ry="4" fill="#f4ddb5" transform="rotate(-30 248.6 1075.5)"/>
<ellipse cx="390" cy="1140" rx="60" ry="50" fill="url(#nod)" stroke="#b78468" stroke-width="3"/>
<ellipse cx="367.2" cy="1121" rx="13.2" ry="8" fill="#f4ddb5" transform="rotate(-30 367.2 1121)"/>
<ellipse cx="185" cy="1160" rx="30" ry="25" fill="url(#nod)" stroke="#b78468" stroke-width="3"/>
<ellipse cx="173.6" cy="1150.5" rx="6.6" ry="4" fill="#f4ddb5" transform="rotate(-30 173.6 1150.5)"/>
<ellipse cx="1310" cy="185" rx="70" ry="35" fill="url(#nod)" stroke="#b78468" stroke-width="3"/>
<ellipse cx="1283.4" cy="171.7" rx="15.4" ry="5.6" fill="#f4ddb5" transform="rotate(-30 1283.4 171.7)"/>
<ellipse cx="1210" cy="265" rx="35" ry="40" fill="url(#nod)" stroke="#b78468" stroke-width="3"/>
<ellipse cx="1196.7" cy="249.8" rx="7.7" ry="6.4" fill="#f4ddb5" transform="rotate(-30 1196.7 249.8)"/>
<ellipse cx="1320" cy="300" rx="45" ry="45" fill="url(#nod)" stroke="#b78468" stroke-width="3"/>
<ellipse cx="1302.9" cy="282.9" rx="9.9" ry="7.2" fill="#f4ddb5" transform="rotate(-30 1302.9 282.9)"/>
<ellipse cx="1380" cy="250" rx="30" ry="30" fill="url(#nod)" stroke="#b78468" stroke-width="3"/>
<ellipse cx="1368.6" cy="238.6" rx="6.6" ry="4.8" fill="#f4ddb5" transform="rotate(-30 1368.6 238.6)"/>
<ellipse cx="1530" cy="190" rx="45" ry="25" fill="url(#nod)" stroke="#b78468" stroke-width="3"/>
<ellipse cx="1512.9" cy="180.5" rx="9.9" ry="4" fill="#f4ddb5" transform="rotate(-30 1512.9 180.5)"/>
<ellipse cx="1600" cy="235" rx="40" ry="25" fill="url(#nod)" stroke="#b78468" stroke-width="3"/>
<ellipse cx="1584.8" cy="225.5" rx="8.8" ry="4" fill="#f4ddb5" transform="rotate(-30 1584.8 225.5)"/>
<ellipse cx="1740" cy="215" rx="85" ry="45" fill="url(#nod)" stroke="#b78468" stroke-width="3"/>
<ellipse cx="1707.7" cy="197.9" rx="18.7" ry="7.2" fill="#f4ddb5" transform="rotate(-30 1707.7 197.9)"/>
<ellipse cx="1905" cy="260" rx="30" ry="45" fill="url(#nod)" stroke="#b78468" stroke-width="3"/>
<ellipse cx="1893.6" cy="242.9" rx="6.6" ry="7.2" fill="#f4ddb5" transform="rotate(-30 1893.6 242.9)"/>
<ellipse cx="1260" cy="410" rx="65" ry="55" fill="url(#nod)" stroke="#b78468" stroke-width="3"/>
<ellipse cx="1235.3" cy="389.1" rx="14.3" ry="8.8" fill="#f4ddb5" transform="rotate(-30 1235.3 389.1)"/>
<ellipse cx="1350" cy="460" rx="30" ry="35" fill="url(#nod)" stroke="#b78468" stroke-width="3"/>
<ellipse cx="1338.6" cy="446.7" rx="6.6" ry="5.6" fill="#f4ddb5" transform="rotate(-30 1338.6 446.7)"/>
<ellipse cx="1500" cy="340" rx="45" ry="35" fill="url(#nod)" stroke="#b78468" stroke-width="3"/>
<ellipse cx="1482.9" cy="326.7" rx="9.9" ry="5.6" fill="#f4ddb5" transform="rotate(-30 1482.9 326.7)"/>
<ellipse cx="1560" cy="380" rx="40" ry="35" fill="url(#nod)" stroke="#b78468" stroke-width="3"/>
<ellipse cx="1544.8" cy="366.7" rx="8.8" ry="5.6" fill="#f4ddb5" transform="rotate(-30 1544.8 366.7)"/>
<ellipse cx="1590" cy="460" rx="70" ry="55" fill="url(#nod)" stroke="#b78468" stroke-width="3"/>
<ellipse cx="1563.4" cy="439.1" rx="15.4" ry="8.8" fill="#f4ddb5" transform="rotate(-30 1563.4 439.1)"/>
<ellipse cx="1690" cy="320" rx="30" ry="30" fill="url(#nod)" stroke="#b78468" stroke-width="3"/>
<ellipse cx="1678.6" cy="308.6" rx="6.6" ry="4.8" fill="#f4ddb5" transform="rotate(-30 1678.6 308.6)"/>
<ellipse cx="1690" cy="390" rx="35" ry="30" fill="url(#nod)" stroke="#b78468" stroke-width="3"/>
<ellipse cx="1676.7" cy="378.6" rx="7.7" ry="4.8" fill="#f4ddb5" transform="rotate(-30 1676.7 378.6)"/>
<ellipse cx="1820" cy="355" rx="40" ry="30" fill="url(#nod)" stroke="#b78468" stroke-width="3"/>
<ellipse cx="1804.8" cy="343.6" rx="8.8" ry="4.8" fill="#f4ddb5" transform="rotate(-30 1804.8 343.6)"/>
<ellipse cx="1720" cy="480" rx="35" ry="35" fill="url(#nod)" stroke="#b78468" stroke-width="3"/>
<ellipse cx="1706.7" cy="466.7" rx="7.7" ry="5.6" fill="#f4ddb5" transform="rotate(-30 1706.7 466.7)"/>
<ellipse cx="1140" cy="525" rx="25" ry="35" fill="url(#nod)" stroke="#b78468" stroke-width="3"/>
<ellipse cx="1130.5" cy="511.7" rx="5.5" ry="5.6" fill="#f4ddb5" transform="rotate(-30 1130.5 511.7)"/>
<ellipse cx="1320" cy="540" rx="40" ry="55" fill="url(#nod)" stroke="#b78468" stroke-width="3"/>
<ellipse cx="1304.8" cy="519.1" rx="8.8" ry="8.8" fill="#f4ddb5" transform="rotate(-30 1304.8 519.1)"/>
<ellipse cx="1390" cy="500" rx="30" ry="30" fill="url(#nod)" stroke="#b78468" stroke-width="3"/>
<ellipse cx="1378.6" cy="488.6" rx="6.6" ry="4.8" fill="#f4ddb5" transform="rotate(-30 1378.6 488.6)"/>
<ellipse cx="1250" cy="630" rx="50" ry="60" fill="url(#nod)" stroke="#b78468" stroke-width="3"/>
<ellipse cx="1231" cy="607.2" rx="11" ry="9.6" fill="#f4ddb5" transform="rotate(-30 1231 607.2)"/>
<ellipse cx="1445" cy="640" rx="35" ry="45" fill="url(#nod)" stroke="#b78468" stroke-width="3"/>
<ellipse cx="1431.7" cy="622.9" rx="7.7" ry="7.2" fill="#f4ddb5" transform="rotate(-30 1431.7 622.9)"/>
<ellipse cx="1610" cy="640" rx="50" ry="60" fill="url(#nod)" stroke="#b78468" stroke-width="3"/>
<ellipse cx="1591" cy="617.2" rx="11" ry="9.6" fill="#f4ddb5" transform="rotate(-30 1591 617.2)"/>
<ellipse cx="1250" cy="740" rx="30" ry="35" fill="url(#nod)" stroke="#b78468" stroke-width="3"/>
<ellipse cx="1238.6" cy="726.7" rx="6.6" ry="5.6" fill="#f4ddb5" transform="rotate(-30 1238.6 726.7)"/>
<ellipse cx="1320" cy="800" rx="65" ry="55" fill="url(#nod)" stroke="#b78468" stroke-width="3"/>
<ellipse cx="1295.3" cy="779.1" rx="14.3" ry="8.8" fill="#f4ddb5" transform="rotate(-30 1295.3 779.1)"/>
<ellipse cx="1490" cy="770" rx="60" ry="45" fill="url(#nod)" stroke="#b78468" stroke-width="3"/>
<ellipse cx="1467.2" cy="752.9" rx="13.2" ry="7.2" fill="#f4ddb5" transform="rotate(-30 1467.2 752.9)"/>
<ellipse cx="1500" cy="450" rx="25" ry="25" fill="url(#nod)" stroke="#b78468" stroke-width="3"/>
<ellipse cx="1490.5" cy="440.5" rx="5.5" ry="4" fill="#f4ddb5" transform="rotate(-30 1490.5 440.5)"/>
</g>
<defs><clipPath id="cpA2"><rect x="1873.8" y="76.0" width="631.1000000000001" height="454.5"/></clipPath></defs>
<rect x="1873.8" y="76.0" width="631.1000000000001" height="454.5" fill="#000"/>
<g clip-path="url(#cpA2)"><g filter="url(#c2)">
<path d="M2015,68C1977.5,72 1987.4,75.5 1975,79C1962.6,82.5 1953,83.8 1940.7,88.8C1928.4,93.8 1912.4,102 1901.4,109.3C1890.4,116.6 1881.3,117.7 1874.7,132.8C1868.1,147.9 1864.5,172.1 1862,200C1859.5,227.9 1857.9,269.5 1860,300C1862.1,330.5 1870.4,362.9 1874.7,383C1879,403.1 1879.9,407.9 1885.7,420.7C1891.5,433.5 1900.1,447.4 1909.3,460C1918.5,472.6 1928.9,485.8 1940.7,496C1952.5,506.2 1970,514.5 1980,521.2C1990,527.9 1972.1,529.5 2000.4,536C2028.7,542.5 2097.8,560 2150,560C2202.2,560 2279.7,543 2313.5,536C2347.3,529 2338.4,524.7 2352.8,518C2367.2,511.3 2385.6,502.5 2400,496C2414.4,489.5 2428.8,482.7 2439,478.8C2449.2,474.9 2456,474.3 2461,472.5C2466,470.7 2466.9,473.8 2469,467.8C2471.1,461.8 2472.1,442.9 2473.7,436.4C2475.3,429.8 2475,436.4 2478.4,428.5C2481.8,420.6 2490.1,403.4 2494,389C2497.9,374.6 2500.7,353.6 2502,342C2503.3,330.4 2502.5,331 2502,319.7C2501.5,308.4 2500.7,289.6 2498.9,274.2C2497.1,258.8 2494.4,242.7 2491,227C2487.6,211.3 2483.1,194.4 2478.4,180C2473.7,165.6 2467.9,153.8 2462.7,140.7C2457.5,127.6 2453.3,113.2 2447,101.4C2440.7,89.6 2466.2,77.7 2425,70C2383.8,62.3 2268.3,55.3 2200,55C2131.7,54.7 2052.5,64 2015,68Z" fill="#484848"/>
<path d="M2015,68C1977.5,72 1987.4,75.5 1975,79C1962.6,82.5 1953,83.8 1940.7,88.8C1928.4,93.8 1912.4,102 1901.4,109.3C1890.4,116.6 1881.3,117.7 1874.7,132.8C1868.1,147.9 1864.5,172.1 1862,200C1859.5,227.9 1857.9,269.5 1860,300C1862.1,330.5 1870.4,362.9 1874.7,383C1879,403.1 1879.9,407.9 1885.7,420.7C1891.5,433.5 1900.1,447.4 1909.3,460C1918.5,472.6 1928.9,485.8 1940.7,496C1952.5,506.2 1970,514.5 1980,521.2C1990,527.9 1972.1,529.5 2000.4,536C2028.7,542.5 2097.8,560 2150,560C2202.2,560 2279.7,543 2313.5,536C2347.3,529 2338.4,524.7 2352.8,518C2367.2,511.3 2385.6,502.5 2400,496C2414.4,489.5 2428.8,482.7 2439,478.8C2449.2,474.9 2456,474.3 2461,472.5C2466,470.7 2466.9,473.8 2469,467.8C2471.1,461.8 2472.1,442.9 2473.7,436.4C2475.3,429.8 2475,436.4 2478.4,428.5C2481.8,420.6 2490.1,403.4 2494,389C2497.9,374.6 2500.7,353.6 2502,342C2503.3,330.4 2502.5,331 2502,319.7C2501.5,308.4 2500.7,289.6 2498.9,274.2C2497.1,258.8 2494.4,242.7 2491,227C2487.6,211.3 2483.1,194.4 2478.4,180C2473.7,165.6 2467.9,153.8 2462.7,140.7C2457.5,127.6 2453.3,113.2 2447,101.4C2440.7,89.6 2466.2,77.7 2425,70C2383.8,62.3 2268.3,55.3 2200,55C2131.7,54.7 2052.5,64 2015,68Z" fill="none" stroke="#888" stroke-width="2.5"/>
<path d="M2042.8,109.3C2024.5,113.1 2009.8,115.3 1995.7,121.8C1981.6,128.3 1970.3,136.2 1958,148.5C1945.7,160.8 1931.2,177.4 1921.8,195.7C1912.4,214 1905.6,237.8 1901.4,258.5C1897.2,279.2 1897,303.1 1896.7,319.7C1896.4,336.2 1897.5,343.6 1899.8,357.8C1902.1,372 1905.3,390.6 1910.8,405C1916.3,419.4 1925.3,432.4 1932.8,444.2C1940.3,456 1946.1,465.5 1955.6,475.6C1965.1,485.7 1976.8,497.6 1990,505C2003.2,512.4 2016.7,517.5 2035,520C2053.3,522.5 2072.5,517.5 2100,520C2127.5,522.5 2166.7,535.8 2200,535C2233.3,534.2 2274.5,521.2 2300,515C2325.5,508.8 2336.1,503.5 2352.8,498C2369.5,492.5 2388,487.5 2400,482C2412,476.5 2416.7,472.7 2425,465C2433.3,457.3 2443.2,446 2450,436C2456.8,426 2461.7,415.4 2466,405C2470.3,394.6 2474.2,384 2476,373.5C2477.8,363 2477.3,352.6 2477,342C2476.7,331.4 2475,323.9 2474,310C2473,296.1 2473.2,272.3 2471,258.5C2468.8,244.7 2464.7,236.9 2461,227C2457.3,217.1 2453.2,207.2 2449,198.8C2444.8,190.4 2439.7,183.6 2436,176.8C2432.3,170 2430.7,164.8 2427,158C2423.3,151.2 2419.5,143.1 2414,136C2408.5,128.9 2401.3,121.5 2394,115.5C2386.7,109.5 2378.2,103.7 2370,99.8C2361.8,95.9 2373.4,93.6 2345,92C2316.6,90.4 2239.7,88.8 2199.8,90C2159.9,91.2 2131.8,95.8 2105.6,99C2079.4,102.2 2061.1,105.5 2042.8,109.3Z" fill="#676767" stroke="#8f8f8f" stroke-width="21"/>
<path d="M2042.8,109.3C2024.5,113.1 2009.8,115.3 1995.7,121.8C1981.6,128.3 1970.3,136.2 1958,148.5C1945.7,160.8 1931.2,177.4 1921.8,195.7C1912.4,214 1905.6,237.8 1901.4,258.5C1897.2,279.2 1897,303.1 1896.7,319.7C1896.4,336.2 1897.5,343.6 1899.8,357.8C1902.1,372 1905.3,390.6 1910.8,405C1916.3,419.4 1925.3,432.4 1932.8,444.2C1940.3,456 1946.1,465.5 1955.6,475.6C1965.1,485.7 1976.8,497.6 1990,505C2003.2,512.4 2016.7,517.5 2035,520C2053.3,522.5 2072.5,517.5 2100,520C2127.5,522.5 2166.7,535.8 2200,535C2233.3,534.2 2274.5,521.2 2300,515C2325.5,508.8 2336.1,503.5 2352.8,498C2369.5,492.5 2388,487.5 2400,482C2412,476.5 2416.7,472.7 2425,465C2433.3,457.3 2443.2,446 2450,436C2456.8,426 2461.7,415.4 2466,405C2470.3,394.6 2474.2,384 2476,373.5C2477.8,363 2477.3,352.6 2477,342C2476.7,331.4 2475,323.9 2474,310C2473,296.1 2473.2,272.3 2471,258.5C2468.8,244.7 2464.7,236.9 2461,227C2457.3,217.1 2453.2,207.2 2449,198.8C2444.8,190.4 2439.7,183.6 2436,176.8C2432.3,170 2430.7,164.8 2427,158C2423.3,151.2 2419.5,143.1 2414,136C2408.5,128.9 2401.3,121.5 2394,115.5C2386.7,109.5 2378.2,103.7 2370,99.8C2361.8,95.9 2373.4,93.6 2345,92C2316.6,90.4 2239.7,88.8 2199.8,90C2159.9,91.2 2131.8,95.8 2105.6,99C2079.4,102.2 2061.1,105.5 2042.8,109.3Z" fill="#676767"/>
<path d="M2247.5,118C2253.8,113.3 2278.3,98.4 2290,96C2301.7,93.6 2328,97.2 2335.5,100C2343,102.8 2344,113.4 2346.5,117.1C2349,120.8 2350.3,126 2354.3,128.1C2358.3,130.2 2369.8,131.3 2376.3,132.8C2382.8,134.3 2397.8,135.7 2403,139.1C2408.2,142.5 2411.8,152.1 2415.6,158C2419.4,163.9 2427.3,176 2431.3,183.1C2435.3,190.2 2442.1,203.4 2445.4,211.4C2448.7,219.4 2453.9,233.4 2456.4,242.8C2458.9,252.2 2463.5,271.7 2464.3,282C2465.1,292.3 2465,314.7 2462.7,319.7C2460.4,324.7 2451.2,323.7 2447,319.7C2442.8,315.7 2436.5,297.5 2431.3,290C2426.1,282.5 2414.1,267.6 2407.8,263.2C2401.5,258.8 2390.5,255.5 2384.2,257C2377.9,258.5 2366.9,269.1 2360.6,274.2C2354.3,279.3 2346.4,289.1 2337,295C2327.6,300.9 2299.2,312.3 2290,318.6C2280.8,324.9 2272.2,335.7 2268,342C2263.8,348.3 2260.4,359.6 2258.5,365.7C2256.6,371.8 2256.3,384.2 2253.8,387.7C2251.3,391.2 2247.2,394.1 2240,392C2232.8,389.9 2209.3,374.7 2200,372C2190.7,369.3 2175.3,376.3 2170,372C2164.7,367.7 2157.1,350.9 2160,340C2162.9,329.1 2186.6,300.2 2192,290C2197.4,279.8 2197.4,268.1 2200.4,263.2C2203.4,258.3 2210.4,254.1 2214.6,253C2218.8,251.9 2227,253.9 2231.8,255.3C2236.6,256.7 2246.5,260.9 2250.7,263.2C2254.9,265.5 2262,273.7 2263.2,272.6C2264.4,271.5 2261.7,259.7 2260,255.3C2258.3,250.9 2253.2,244.4 2250.7,239.6C2248.2,234.8 2243.8,224.4 2241.3,219.2C2238.8,214 2233.7,205.6 2231.8,200.4C2229.9,195.2 2227.4,184.8 2227,180C2226.6,175.2 2227.8,169 2228.7,164.2C2229.6,159.4 2231.5,148.2 2233.4,143.8C2235.3,139.4 2240.9,134.7 2242.8,131.3C2244.7,127.9 2241.2,122.7 2247.5,118Z" fill="#929292"/>
<path d="M2312,153C2337,172 2345,196 2353,212C2360,228 2350,245 2340,262" stroke="#6c6c6c" stroke-width="9" fill="none"/>
<path d="M2250,118C2262,122 2275,130 2272,145" stroke="#3a3a3a" stroke-width="9" fill="none" stroke-linecap="round"/>
<ellipse cx="2261.7" cy="170.5" rx="2.2" ry="2.2" fill="#333" />
<ellipse cx="2288.4" cy="178.4" rx="2.5" ry="2.5" fill="#333" />
<ellipse cx="2305.7" cy="209.8" rx="2.8" ry="2.8" fill="#333" />
<ellipse cx="2293" cy="195.7" rx="1.8" ry="1.8" fill="#333" />
<ellipse cx="2283.7" cy="277.4" rx="1.8" ry="1.8" fill="#333" />
<path d="M2362,76L2425,76L2452,110L2470,160L2440,120L2400,95Z" fill="#6a6a6a"/>
<path d="M2120,440C2129.2,429.2 2141.7,422.5 2150,415C2158.3,407.5 2155.8,398.3 2170,395C2184.2,391.7 2219.7,387.5 2235,395C2250.3,402.5 2252.8,426.2 2262,440C2271.2,453.8 2278.7,468 2290,478C2301.3,488 2319.7,492.2 2330,500C2340.3,507.8 2357,517.5 2352,525C2347,532.5 2342,541.7 2300,545C2258,548.3 2136.7,549.2 2100,545C2063.3,540.8 2080.8,530.8 2080,520C2079.2,509.2 2088.3,493.3 2095,480C2101.7,466.7 2110.8,450.8 2120,440Z" fill="#888"/>
<path d="M2384.2,257C2392.1,255.2 2400,257.7 2407.8,263.2C2415.7,268.7 2424.8,280.6 2431.3,290C2437.8,299.4 2442.6,311 2447,319.7C2451.4,328.4 2456.9,333.1 2458,342.1C2459.1,351.1 2455.7,364.4 2453.3,373.5C2451,382.6 2448.1,389.1 2443.9,397C2439.7,404.9 2434.2,413.6 2428.2,420.7C2422.2,427.8 2415.1,434.5 2407.8,439.5C2400.5,444.5 2392.1,447.6 2384.2,450.5C2376.3,453.4 2369.5,455.5 2360.6,456.8C2351.7,458.1 2340,459.4 2330.8,458.4C2321.7,457.3 2313.8,454.2 2305.7,450.5C2297.6,446.8 2288.3,441.4 2282,436.4C2275.7,431.4 2271.9,425.9 2268,420.7C2264.1,415.5 2260.9,410.5 2258.5,405C2256.1,399.5 2253.8,394.2 2253.8,387.7C2253.8,381.1 2256.1,373.3 2258.5,365.7C2260.9,358.1 2262.8,349.9 2268,342C2273.2,334.1 2281.1,325.1 2290,318.6C2298.9,312.1 2313.6,306.7 2321.4,302.8C2329.2,298.9 2330.5,299.8 2337,295C2343.5,290.2 2352.7,280.5 2360.6,274.2C2368.5,267.9 2376.3,258.8 2384.2,257Z" fill="#b4b4b4"/>
<ellipse cx="2350" cy="370" rx="70" ry="60" fill="#c0c0c0" filter="url(#c6)"/>
<path d="M1955.6,475.6C1958.9,477.1 1972.6,485.3 1980,488.2C1987.4,491.1 2003,496.6 2011.4,497.6C2019.8,498.6 2034.4,497.9 2042.8,496C2051.2,494.1 2066.2,488.3 2074.2,483.5C2082.2,478.7 2096.2,466.3 2102.5,460C2108.8,453.7 2116.3,442.5 2121.3,436.4C2126.3,430.3 2135.2,419.7 2140.2,414.4C2145.2,409.1 2156.5,399.1 2159,397C2161.5,394.9 2159.8,395.1 2159,398.7C2158.2,402.3 2154.8,417.1 2152.7,423.8C2150.6,430.5 2146.2,442.5 2143.3,449C2140.4,455.5 2134.5,466.9 2130.7,472.5C2126.9,478.1 2120,486.9 2115,491.3C2110,495.7 2099.5,502.6 2093,505.5C2086.5,508.4 2074,512 2066.3,513.3C2058.6,514.6 2043.4,515.4 2035,515C2026.6,514.6 2011.9,512.7 2003.5,510.2C1995.1,507.7 1978.4,500.4 1972,496C1965.6,491.6 1957.8,479.9 1955.6,477.2C1953.4,474.5 1952.3,474.1 1955.6,475.6Z" fill="#000"/>
<path d="M2332.4,92C2333.5,90.7 2340.8,89.5 2345,90.4C2349.2,91.3 2363,96.9 2368.5,99.8C2374,102.7 2386.9,111.3 2392,115.5C2397.1,119.7 2408.7,131 2412.5,136C2416.3,141 2422.4,153.2 2425,158C2427.6,162.8 2431.9,172 2434.5,176.8C2437.1,181.6 2444.1,192.9 2447,198.8C2449.9,204.7 2457,220 2459.6,227C2462.2,234 2467.5,251.2 2469,258.5C2470.5,265.9 2471.7,280.2 2472.2,290C2472.7,299.8 2473.7,332.4 2473.7,342.1C2473.7,351.8 2473.5,366.2 2472.2,373.5C2470.9,380.8 2465.6,398 2462.7,405C2459.8,412 2451.6,426.6 2447,433.2C2442.4,439.8 2429,456.2 2423.5,461.5C2418,466.8 2405.5,475.5 2400,478.8C2394.5,482.1 2381.8,488.1 2376.3,489.8C2370.8,491.5 2359.2,493.2 2352.8,493C2346.4,492.8 2328.7,490.2 2321.4,488.2C2314.1,486.2 2296.2,478.9 2290,475.6C2283.8,472.3 2272.6,464.6 2268,460C2263.4,455.4 2253.6,441.9 2250.7,436.4C2247.8,430.9 2243.7,418.3 2242.8,412.8C2241.9,407.3 2241.5,392.1 2242.8,389.2C2244.1,386.3 2252,385.9 2253.8,387.7C2255.6,389.5 2256.8,401.1 2258.5,405C2260.2,408.9 2265.3,417 2268,420.7C2270.7,424.4 2277.6,432.9 2282,436.4C2286.4,439.9 2300,447.9 2305.7,450.5C2311.4,453.1 2324.4,457.7 2330.8,458.4C2337.2,459.1 2354.4,457.7 2360.6,456.8C2366.8,455.9 2378.7,452.5 2384.2,450.5C2389.7,448.5 2402.7,443 2407.8,439.5C2412.9,436 2424,425.7 2428.2,420.7C2432.4,415.7 2441,402.5 2443.9,397C2446.8,391.5 2451.7,379.9 2453.3,373.5C2454.9,367.1 2456.9,349.4 2458,342.1C2459.1,334.8 2462,317.7 2462.7,310.7C2463.4,303.7 2465,289.9 2464.3,282C2463.6,274.1 2458.6,251 2456.4,242.8C2454.2,234.6 2448.3,218.4 2445.4,211.4C2442.5,204.4 2434.8,189.3 2431.3,183.1C2427.8,176.9 2418.9,163.1 2415.6,158C2412.3,152.9 2407.6,142 2403,139.1C2398.4,136.2 2382,134.1 2376.3,132.8C2370.6,131.5 2357.8,129.9 2354.3,128.1C2350.8,126.3 2348.7,120.2 2346.5,117.1C2344.3,114 2337.1,104.3 2335.5,101.4C2333.9,98.5 2331.3,93.3 2332.4,92Z" fill="#000"/>
<ellipse cx="2233" cy="355.5" rx="25.5" ry="25" fill="#c8c8c8" />
<ellipse cx="2215" cy="300" rx="22" ry="18" fill="#9a9a9a" />
<ellipse cx="2198.5" cy="398.6" rx="42" ry="31" fill="#f4f4f4" />
<ellipse cx="2198.5" cy="400" rx="30" ry="20" fill="#e6e6e6" />
<path d="M2160,420C2150,450 2160,478 2178,482L2196,486L2200,530L2222,530L2214,486L2236,480C2262,488 2266,460 2252,448L2240,420Z" fill="#fafafa"/>
<ellipse cx="2202" cy="449" rx="20" ry="14.5" fill="#707070" />
<path d="M1951.7,139.1C1970,122 2000,108 2035,99.8" stroke="#fdfdfd" stroke-width="11" fill="none" stroke-linecap="round"/>
<path d="M1890.4,219.2C1895,205 1902,193 1910.8,183.1" stroke="#fdfdfd" stroke-width="11" fill="none" stroke-linecap="round"/>
<ellipse cx="1889" cy="320" rx="7" ry="27" fill="#fdfdfd" />
<ellipse cx="2047.5" cy="98.3" rx="4" ry="3.5" fill="#fdfdfd" />
<ellipse cx="2086.8" cy="90.4" rx="9" ry="4" fill="#fdfdfd" transform="rotate(-12 2086.8 90.4)" />
<ellipse cx="2114" cy="88" rx="5" ry="3" fill="#ccc" />
<path d="M1901.4,420.7C1915,440 1935,462 1954.8,478.8L1967.4,491.3" stroke="#fdfdfd" stroke-width="10.5" fill="none" stroke-linecap="round"/>
<path d="M2035,523C2055,524 2075,521 2093,516" stroke="#fdfdfd" stroke-width="9" fill="none" stroke-linecap="round"/>
<path d="M2437.6,161.1C2450,180 2460,200 2467.4,219.2" stroke="#fdfdfd" stroke-width="11" fill="none" stroke-linecap="round"/>
<ellipse cx="2474.5" cy="322" rx="6.5" ry="28" fill="#fdfdfd" />
<path d="M2308.8,495C2322,503 2338,507 2352.8,506" stroke="#fdfdfd" stroke-width="10" fill="none" stroke-linecap="round"/>
<path d="M2381,491.3C2410,478 2436,455 2454.9,425.4" stroke="#fdfdfd" stroke-width="8" fill="none" stroke-linecap="round"/>
<path d="M2337,76L2362,76L2350,87Z" fill="#fff"/>
</g>
<path d="M1970.5,236.5L1992.5,220.8L2011.4,195.7L2033.4,184.7L2047.5,182.3L2071,170.5L2105.6,151.7L2144.9,129.7L2176.3,117.1L2195.7,114L2216,110L2231.8,115.5L2247.5,123.4L2242.8,131.3L2233.4,143.8L2228.7,164.2L2227,180L2231.8,200.4L2241.3,219.2L2250.7,239.6L2260,255.3L2266.4,268L2263.2,272.6L2250.7,263.2L2231.8,255.3L2214.6,253L2200.4,263.2L2187.9,275.8L2180,280.5L2168.4,290L2152.7,302.5L2141.7,319.7L2142.5,342.9Z" fill="#d6c18f" stroke="#e8d48f" stroke-width="1.6" filter="url(#c1)"/>
<path d="M1970.5,236.5C1985.7,244.8 2128,332.8 2142.5,342.9C2157,353 2144.1,355 2144.9,357.8C2145.8,360.6 2151.5,373.6 2152.7,376.7C2153.9,379.8 2160,392.4 2159,395.5C2158,398.6 2143.3,411 2140.2,414.4C2137.1,417.8 2124.4,432.7 2121.3,436.4C2118.2,440.1 2104.2,457 2102.5,458.4C2100.8,459.8 2102.7,454.8 2100.9,453.6C2099.1,452.4 2085.3,445.2 2080.5,444.2C2075.7,443.1 2048.6,442.2 2042.8,441C2037,439.8 2016.4,432.8 2011.4,430C2006.4,427.2 1986.4,411.9 1983,408C1979.6,404.1 1972.1,388.5 1970.5,383C1968.9,377.5 1965,349.3 1964.2,342C1963.4,334.7 1960.6,303.3 1960.3,295C1960,286.7 1959.5,247.7 1960.3,242.8C1961.1,237.9 1955.3,228.2 1970.5,236.5Z" fill="#8fb198" filter="url(#c1)"/>
<path d="M2142.5,342.9C2141.1,340.9 2140.3,325.1 2141.7,319.7C2143.1,314.3 2149.1,306.5 2152.7,302.5C2156.3,298.5 2164.1,292.1 2168.4,290C2172.7,287.9 2181.9,286.2 2185,287C2188.1,287.8 2191.1,288.9 2192,296C2192.9,303.1 2192.3,331.2 2192,340C2191.7,348.8 2191.6,358 2190,362C2188.4,366 2182.4,370 2180,370C2177.6,370 2173.9,365.3 2172,362C2170.1,358.7 2168.7,348.6 2166,345C2163.3,341.4 2155.1,335.3 2152,335C2148.9,334.7 2143.9,344.9 2142.5,342.9Z" fill="#b68b78" filter="url(#c1)"/>
<ellipse cx="2156" cy="357" rx="10" ry="23" fill="#bfc6c4" transform="rotate(12 2156 357)" filter="url(#c1)"/>
<ellipse cx="2040.2" cy="339" rx="4" ry="4" fill="#a7c4ae" filter="url(#c1)"/>
<ellipse cx="2054" cy="389.6" rx="4" ry="4" fill="#a7c4ae" filter="url(#c1)"/>
<ellipse cx="2095" cy="393" rx="4" ry="4" fill="#a7c4ae" filter="url(#c1)"/>
</g>
<rect x="2628.6" y="75.8" width="635.5999999999999" height="454.7" fill="url(#sky)"/>
<defs><clipPath id="cy"><path d="M2740.5,311.7L2744.6,297.4L2752.7,285.1L2756.8,264.6L2775.3,250.3L2791.6,238L2808,226.7L2863.3,225.7L2881.7,203.2L2898.1,192L2916.5,180.7L2957.4,179.7L2965.6,190.9L2973.8,203.2L2979.9,215.5L2986.1,231.9L2990.2,248.2L2945.1,250.3L2936.9,260.5L2932.8,281L2924.7,293.3L2916.5,309.6L2914.4,324L2908.3,334.2L2900.1,338.3L2750.7,338.3L2744.6,330.1L2740.5,319.9Z"/></clipPath><clipPath id="cg"><path d="M2957.4,179.7L2986.1,180.7L3006.5,193L3027,207.3L3039.3,217.5L3055.6,240.1L3072,252.3L3088.4,268.7L3102.7,281L3115,297.4L3125.2,319.9L3121.1,344.4L3117,371L3108.9,391.5L3098.6,407.9L3086.3,416.1L3072,412L3057.7,403.8L3047.5,409.9L2986.1,409.9L2973.8,395.6L2971.7,379.2L2984,364.9L2988.1,346.5L2986.1,340.3L3006.5,336.2L3010.6,272.8L3006.5,252.3L2990.2,248.2L2986.1,231.9L2979.9,215.5L2973.8,203.2L2965.6,190.9Z"/></clipPath><clipPath id="cb"><path d="M2945.1,250.3L2990.2,248.2L3006.5,252.3L3010.6,272.8L3006.5,336.2L2986.1,340.3L2988.1,346.5L2984,364.9L2971.7,379.2L2945.1,381.3L2932.8,358.8L2926.7,346.5L2914.4,342.4L2910.3,330.1L2914.4,324L2916.5,309.6L2924.7,293.3L2932.8,281L2936.9,260.5Z"/></clipPath></defs>
<g filter="url(#c1)">
<path d="M2740.5,311.7L2744.6,297.4L2752.7,285.1L2756.8,264.6L2775.3,250.3L2791.6,238L2808,226.7L2863.3,225.7L2881.7,203.2L2898.1,192L2916.5,180.7L2957.4,179.7L2965.6,190.9L2973.8,203.2L2979.9,215.5L2986.1,231.9L2990.2,248.2L2945.1,250.3L2936.9,260.5L2932.8,281L2924.7,293.3L2916.5,309.6L2914.4,324L2908.3,334.2L2900.1,338.3L2750.7,338.3L2744.6,330.1L2740.5,319.9Z" fill="#e7d596" stroke="#5e5638" stroke-width="1.2"/>
<g clip-path="url(#cy)" stroke="#7f7148" stroke-width="2.6" fill="none">
<path d="M2875.5,187.9H2992.2"/>
<path d="M2875.5,198.1H2992.2"/>
<path d="M2875.5,209.4H2992.2"/>
<path d="M2875.5,220.6H2992.2"/>
<path d="M2738.4,234.9H2941"/>
<path d="M2738.4,245.2H2939.4"/>
<path d="M2738.4,257.4H2937.8"/>
<path d="M2738.4,269.7H2936.1"/>
<path d="M2738.4,281H2934.5"/>
<path d="M2738.4,293.3H2932.8"/>
<path d="M2738.4,305.5H2931.2"/>
<path d="M2738.4,316.8H2929.6"/>
<path d="M2738.4,328.1H2927.9"/>
<path d="M2941,231.9L2900.1,334.2" stroke-width="2"/>
</g>
<g clip-path="url(#cy)" stroke="#f4e9b8" stroke-width="2.4" fill="none" opacity="0.8">
<path d="M2738.4,240.1H2924.7"/>
<path d="M2738.4,251.3H2923"/>
<path d="M2738.4,263.6H2921.4"/>
<path d="M2738.4,275.3H2919.7"/>
<path d="M2738.4,287.1H2918.1"/>
<path d="M2738.4,299.4H2916.5"/>
<path d="M2738.4,311.3H2914.8"/>
<path d="M2738.4,322.3H2913.2"/>
<path d="M2738.4,333.2H2911.6"/>
</g>
<path d="M2957.4,179.7L2986.1,180.7L3006.5,193L3027,207.3L3039.3,217.5L3055.6,240.1L3072,252.3L3088.4,268.7L3102.7,281L3115,297.4L3125.2,319.9L3121.1,344.4L3117,371L3108.9,391.5L3098.6,407.9L3086.3,416.1L3072,412L3057.7,403.8L3047.5,409.9L2986.1,409.9L2973.8,395.6L2971.7,379.2L2984,364.9L2988.1,346.5L2986.1,340.3L3006.5,336.2L3010.6,272.8L3006.5,252.3L2990.2,248.2L2986.1,231.9L2979.9,215.5L2973.8,203.2L2965.6,190.9Z" fill="#7db88c" stroke="#35583f" stroke-width="1.2"/>
<g clip-path="url(#cg)" stroke="#4c8660" stroke-width="2.4" fill="none">
<path d="M2961.5,187.9h61.4"/>
<path d="M2967.6,198.1h66.5"/>
<path d="M2973.8,209.4h71.6"/>
<path d="M2979.9,220.6h76.7"/>
<path d="M2986.1,232.9h81.9"/>
<path d="M2992.2,245.2h87"/>
<path transform="translate(2720,150) scale(0.20466)" d="M1480,620h120v60h180" stroke-width="12"/>
<path transform="translate(2720,150) scale(0.20466)" d="M1500,800c-30,-30 10,-50 40,-30h150" stroke-width="12"/>
<path transform="translate(2720,150) scale(0.20466)" d="M1560,560h200" stroke-width="12"/>
<path transform="translate(2720,150) scale(0.20466)" d="M1620,920h180v80h130" stroke-width="12"/>
<path transform="translate(2720,150) scale(0.20466)" d="M1480,1030v60h300" stroke-width="12"/>
<path transform="translate(2720,150) scale(0.20466)" d="M1330,990h120" stroke-width="12"/>
<path transform="translate(2720,150) scale(0.20466)" d="M1460,1090h420" stroke-width="12"/>
<path transform="translate(2720,150) scale(0.20466)" d="M1300,1160h560" stroke-width="12"/>
<path transform="translate(2720,150) scale(0.20466)" d="M1320,1215h400" stroke-width="12"/>
<path transform="translate(2720,150) scale(0.20466)" d="M1700,700h120v50h90" stroke-width="12"/>
</g>
<ellipse cx="3075" cy="335" rx="30" ry="45" fill="#90c99c" opacity="0.6" filter="url(#c6)" clip-path="url(#cg)"/>
<path d="M2945.1,250.3L2990.2,248.2L3006.5,252.3L3010.6,272.8L3006.5,336.2L2986.1,340.3L2988.1,346.5L2984,364.9L2971.7,379.2L2945.1,381.3L2932.8,358.8L2926.7,346.5L2914.4,342.4L2910.3,330.1L2914.4,324L2916.5,309.6L2924.7,293.3L2932.8,281L2936.9,260.5Z" fill="#b9806c" stroke="#5c3a30" stroke-width="1.2"/>
<g clip-path="url(#cb)">
<path transform="translate(2720,150) scale(0.20466)" d="M1060,620L1180,640L1230,900L1300,930L1290,1050L1230,1120L1100,1130L1040,1020L1010,960L950,940L960,800Z" fill="#a06c5b" opacity="0.55"/>
<path transform="translate(2720,150) scale(0.20466)" d="M1250,640c40,-20 90,-15 110,0M1090,1080h200M1080,1030h220" stroke="#8a5a4a" stroke-width="12" fill="none"/>
</g>
</g>
<defs><clipPath id="cpC2"><rect x="1873.8" y="617.6" width="644.1000000000001" height="415.6"/></clipPath></defs>
<rect x="1873.8" y="617.6" width="644.1000000000001" height="415.6" fill="#000"/>
<g clip-path="url(#cpC2)"><g filter="url(#c2)">
<path d="M2060,612C2034.5,614.6 2037.7,616.1 2027,619.4C2016.3,622.7 2005.6,626.2 1995.7,632C1985.8,637.8 1976.1,645.9 1967.4,654C1958.8,662.1 1951.1,671 1943.8,680.7C1936.5,690.4 1929.7,701 1923.4,712C1917.1,723 1911,734.9 1906,746.7C1901,758.5 1897,768.9 1893.6,782.8C1890.2,796.7 1887.3,816.8 1885.7,830C1884.1,843.2 1882.7,849.8 1884,862C1885.3,874.2 1888.6,889.9 1893.6,903C1898.6,916.1 1906.2,928.7 1914,940.7C1921.8,952.7 1931,964.7 1940.7,975.2C1950.4,985.7 1961.5,995.9 1972,1003.5C1982.5,1011.1 1994.3,1016.2 2003.5,1020.8C2012.7,1025.4 2010.9,1026.1 2027,1031C2043.1,1035.9 2062.8,1046.8 2100,1050C2137.2,1053.2 2215.4,1052.8 2250,1050C2284.6,1047.2 2292.9,1037.3 2307.8,1033C2322.7,1028.7 2327.4,1028.1 2339.2,1024C2351,1019.9 2365.4,1013.7 2378.5,1008.2C2391.6,1002.7 2406.3,996.2 2417.8,991C2429.3,985.8 2441.3,981 2447.6,976.8C2453.9,972.6 2453.8,971 2455.4,965.8C2457,960.6 2454.6,954.8 2457,945.4C2459.4,936 2466.2,923.1 2469.6,909.2C2473,895.3 2475.6,875.2 2477.4,862C2479.2,848.8 2480.6,840.6 2480.6,830C2480.6,819.4 2479.2,809 2477.4,798.5C2475.6,788 2473.5,778 2469.6,767C2465.7,756 2459.9,744 2453.9,732.5C2447.9,721 2440.8,709 2433.5,698C2426.2,687 2417.9,675.9 2410,666.5C2402.1,657.1 2394.7,649.5 2386.3,641.4C2377.9,633.3 2374,623.8 2359.6,617.9C2345.2,612 2329.9,608.3 2300,606C2270.1,603.7 2220,603 2180,604C2140,605 2085.5,609.4 2060,612Z" fill="#8a8a8a"/>
<path d="M2060,612C2034.5,614.6 2037.7,616.1 2027,619.4C2016.3,622.7 2005.6,626.2 1995.7,632C1985.8,637.8 1976.1,645.9 1967.4,654C1958.8,662.1 1951.1,671 1943.8,680.7C1936.5,690.4 1929.7,701 1923.4,712C1917.1,723 1911,734.9 1906,746.7C1901,758.5 1897,768.9 1893.6,782.8C1890.2,796.7 1887.3,816.8 1885.7,830C1884.1,843.2 1882.7,849.8 1884,862C1885.3,874.2 1888.6,889.9 1893.6,903C1898.6,916.1 1906.2,928.7 1914,940.7C1921.8,952.7 1931,964.7 1940.7,975.2C1950.4,985.7 1961.5,995.9 1972,1003.5C1982.5,1011.1 1994.3,1016.2 2003.5,1020.8C2012.7,1025.4 2010.9,1026.1 2027,1031C2043.1,1035.9 2062.8,1046.8 2100,1050C2137.2,1053.2 2215.4,1052.8 2250,1050C2284.6,1047.2 2292.9,1037.3 2307.8,1033C2322.7,1028.7 2327.4,1028.1 2339.2,1024C2351,1019.9 2365.4,1013.7 2378.5,1008.2C2391.6,1002.7 2406.3,996.2 2417.8,991C2429.3,985.8 2441.3,981 2447.6,976.8C2453.9,972.6 2453.8,971 2455.4,965.8C2457,960.6 2454.6,954.8 2457,945.4C2459.4,936 2466.2,923.1 2469.6,909.2C2473,895.3 2475.6,875.2 2477.4,862C2479.2,848.8 2480.6,840.6 2480.6,830C2480.6,819.4 2479.2,809 2477.4,798.5C2475.6,788 2473.5,778 2469.6,767C2465.7,756 2459.9,744 2453.9,732.5C2447.9,721 2440.8,709 2433.5,698C2426.2,687 2417.9,675.9 2410,666.5C2402.1,657.1 2394.7,649.5 2386.3,641.4C2377.9,633.3 2374,623.8 2359.6,617.9C2345.2,612 2329.9,608.3 2300,606C2270.1,603.7 2220,603 2180,604C2140,605 2085.5,609.4 2060,612Z" fill="none" stroke="#5c5c5c" stroke-width="5"/>
<path d="M2060,612C2034.5,614.6 2037.7,616.1 2027,619.4C2016.3,622.7 2005.6,626.2 1995.7,632C1985.8,637.8 1976.1,645.9 1967.4,654C1958.8,662.1 1951.1,671 1943.8,680.7C1936.5,690.4 1929.7,701 1923.4,712C1917.1,723 1911,734.9 1906,746.7C1901,758.5 1897,768.9 1893.6,782.8C1890.2,796.7 1887.3,816.8 1885.7,830C1884.1,843.2 1882.7,849.8 1884,862C1885.3,874.2 1888.6,889.9 1893.6,903C1898.6,916.1 1906.2,928.7 1914,940.7C1921.8,952.7 1931,964.7 1940.7,975.2C1950.4,985.7 1961.5,995.9 1972,1003.5C1982.5,1011.1 1994.3,1016.2 2003.5,1020.8C2012.7,1025.4 2010.9,1026.1 2027,1031C2043.1,1035.9 2062.8,1046.8 2100,1050C2137.2,1053.2 2215.4,1052.8 2250,1050C2284.6,1047.2 2292.9,1037.3 2307.8,1033C2322.7,1028.7 2327.4,1028.1 2339.2,1024C2351,1019.9 2365.4,1013.7 2378.5,1008.2C2391.6,1002.7 2406.3,996.2 2417.8,991C2429.3,985.8 2441.3,981 2447.6,976.8C2453.9,972.6 2453.8,971 2455.4,965.8C2457,960.6 2454.6,954.8 2457,945.4C2459.4,936 2466.2,923.1 2469.6,909.2C2473,895.3 2475.6,875.2 2477.4,862C2479.2,848.8 2480.6,840.6 2480.6,830C2480.6,819.4 2479.2,809 2477.4,798.5C2475.6,788 2473.5,778 2469.6,767C2465.7,756 2459.9,744 2453.9,732.5C2447.9,721 2440.8,709 2433.5,698C2426.2,687 2417.9,675.9 2410,666.5C2402.1,657.1 2394.7,649.5 2386.3,641.4C2377.9,633.3 2374,623.8 2359.6,617.9C2345.2,612 2329.9,608.3 2300,606C2270.1,603.7 2220,603 2180,604C2140,605 2085.5,609.4 2060,612Z" fill="none" stroke="#aaa" stroke-width="1.6"/>
<path d="M2060,636C2033.3,639 2031.7,641.3 2020,646C2008.3,650.7 1999,656.7 1990,664C1981,671.3 1973.3,680.3 1966,690C1958.7,699.7 1952,711 1946,722C1940,733 1934.3,744.7 1930,756C1925.7,767.3 1923.2,777.7 1920,790C1916.8,802.3 1913,818 1911,830C1909,842 1907.2,849.8 1908,862C1908.8,874.2 1911.3,890 1916,903C1920.7,916 1928,928.5 1936,940C1944,951.5 1953.7,963 1964,972C1974.3,981 1987,988.3 1998,994C2009,999.7 2019.2,1003.7 2030,1006C2040.8,1008.3 2051.3,1009 2063,1008C2074.7,1007 2087.2,1003.8 2100,1000C2112.8,996.2 2126.7,985 2140,985C2153.3,985 2163.3,997.5 2180,1000C2196.7,1002.5 2220,1002.5 2240,1000C2260,997.5 2283.3,986.7 2300,985C2316.7,983.3 2326.4,989.2 2340,990C2353.6,990.8 2369.6,994 2381.6,990C2393.6,986 2403.6,974.7 2412,966C2420.4,957.3 2426.3,948.2 2432,938C2437.7,927.8 2442.3,915.5 2446,905C2449.7,894.5 2452.2,884.8 2454,875C2455.8,865.2 2456.8,856 2457,846C2457.2,836 2456.3,824.3 2455,815C2453.7,805.7 2451.5,798.3 2449,790C2446.5,781.7 2443.8,773 2440,765C2436.2,757 2431.3,749.8 2426,742C2420.7,734.2 2414.7,725.8 2408,718C2401.3,710.2 2394,703 2386,695C2378,687 2368.5,677.5 2360,670C2351.5,662.5 2345,656.7 2335,650C2325,643.3 2325.8,633.7 2300,630C2274.2,626.3 2220,627 2180,628C2140,629 2086.7,633 2060,636Z" fill="#747474"/>
<path d="M2125,640C2135,634.3 2159.2,636 2180,636C2200.8,636 2224.2,637.7 2250,640C2275.8,642.3 2319.2,640 2335,650C2350.8,660 2345,685 2345,700C2345,715 2334.2,725 2335,740C2335.8,755 2349.2,775 2350,790C2350.8,805 2343.3,817.3 2340,830C2336.7,842.7 2340,857.7 2330,866C2320,874.3 2289.2,871.8 2280,880C2270.8,888.2 2271.7,903.3 2275,915C2278.3,926.7 2289.2,938.3 2300,950C2310.8,961.7 2350,976.7 2340,985C2330,993.3 2270,999.2 2240,1000C2210,1000.8 2176.7,1001.7 2160,990C2143.3,978.3 2143.7,947.5 2140,930C2136.3,912.5 2141.2,896.3 2138,885C2134.8,873.7 2129,867.2 2121,862C2113,856.8 2097.7,857.7 2090,854C2082.3,850.3 2076.7,849 2075,840C2073.3,831 2082.5,813.3 2080,800C2077.5,786.7 2061.7,770.8 2060,760C2058.3,749.2 2063.3,745 2070,735C2076.7,725 2091.7,710.8 2100,700C2108.3,689.2 2115.8,680 2120,670C2124.2,660 2115,645.7 2125,640Z" fill="#8b8b8b"/>
<path d="M2253,862C2256,920 2270,962 2316,982" stroke="#555" stroke-width="12" fill="none"/>
<path d="M2275,940C2300,955 2330,968 2350,975" stroke="#9a9a9a" stroke-width="12" fill="none"/>
<path d="M2300,690C2320,720 2340,760 2345,800" stroke="#6a6a6a" stroke-width="22" fill="none"/>
<path d="M1931.3,887.3C1935,883.1 1953.5,892 1964.2,890.4C1974.9,888.8 1985.2,881.7 1995.7,877.8C2006.2,873.9 2017.1,869.4 2027,866.8C2036.9,864.2 2044.8,864.1 2055.3,862C2065.8,859.9 2079,854.3 2090,854.3C2101,854.3 2113.5,856.8 2121.3,862C2129.1,867.2 2133.9,875.2 2137,885.7C2140.1,896.2 2140.5,913.2 2140,925C2139.5,936.8 2137,947.2 2133.9,956.4C2130.8,965.6 2127.3,973.5 2121.3,980C2115.3,986.5 2107.5,991.7 2097.8,995.6C2088.1,999.5 2077.6,1004.8 2063.2,1003.5C2048.8,1002.2 2025.3,993.5 2011.4,987.8C1997.5,982 1988.9,976.3 1980,969C1971.1,961.7 1964.3,952.7 1958,943.8C1951.7,934.9 1946.8,924.9 1942.3,915.5C1937.8,906.1 1927.6,891.5 1931.3,887.3Z" fill="#8e8e8e"/>
<path d="M1925,800C1932.5,790.8 1947.5,775.8 1960,770C1972.5,764.2 1986.7,764.2 2000,765C2013.3,765.8 2027.5,769.2 2040,775C2052.5,780.8 2066.7,790.8 2075,800C2083.3,809.2 2088.3,821.3 2090,830C2091.7,838.7 2090.8,846.7 2085,852C2079.2,857.3 2065,859.5 2055.3,862C2045.6,864.5 2036.9,864.2 2027,866.8C2017.1,869.4 2006.2,873.9 1995.7,877.8C1985.2,881.7 1974.9,888.8 1964.2,890.4C1953.5,892 1939.5,892.4 1931.3,887.3C1923.1,882.2 1917.7,870.4 1915,860C1912.3,849.6 1913.3,835 1915,825C1916.7,815 1917.5,809.2 1925,800Z" fill="#646464"/>
<path d="M1931,887C1940,930 1965,965 2000,985C2025,998 2045,1003 2063,1004" stroke="#686868" stroke-width="9" fill="none"/>
<path d="M2063,1010C2069.7,1002.5 2087.2,1004.2 2100,1000C2112.8,995.8 2130,991.7 2140,985C2150,978.3 2143.3,964.2 2160,960C2176.7,955.8 2223,955.8 2240,960C2257,964.2 2252,980 2262,985C2272,990 2286.2,987.5 2300,990C2313.8,992.5 2340,990.8 2345,1000C2350,1009.2 2377.5,1037.5 2330,1045C2282.5,1052.5 2104.5,1050.8 2060,1045C2015.5,1039.2 2056.3,1017.5 2063,1010Z" fill="#8c8c8c"/>
<path d="M1973.7,710.5C1974.2,706.3 1976.9,703 1980,698C1983.1,693 1987.8,686 1992.5,680.7C1997.2,675.5 2002.5,670.7 2008.2,666.5C2014,662.3 2019.9,658.7 2027,655.6C2034.1,652.5 2042.7,649.7 2050.6,647.7C2058.5,645.7 2066.3,644.6 2074.2,643.8C2082.1,643 2091.5,642.6 2097.8,643C2104.1,643.4 2108.2,643.9 2111.9,646C2115.6,648.1 2118.4,651.6 2119.7,655.6C2121,659.6 2121,665 2119.7,669.7C2118.4,674.4 2115,679.3 2111.9,683.8C2108.8,688.2 2105.1,692.2 2100.9,696.4C2096.7,700.6 2091.2,705.1 2086.8,709C2082.4,712.9 2078.1,716.1 2074.2,720C2070.3,723.9 2066.9,728.3 2063.2,732.5C2059.5,736.7 2055.6,741.9 2052.2,745C2048.8,748.1 2047,750.6 2042.8,751.4C2038.6,752.2 2032.2,750.1 2027,749.8C2021.8,749.5 2016.1,750.6 2011.4,749.8C2006.7,749 2003,747.6 1998.8,745C1994.6,742.4 1989.9,737.7 1986.2,734C1982.5,730.3 1978.9,726.9 1976.8,723C1974.7,719.1 1973.2,714.7 1973.7,710.5Z" fill="#000"/>
<path d="M2176.3,657C2177.4,652.7 2177.7,648.2 2182.6,646C2187.5,643.8 2198.7,643.5 2205.7,643.8C2212.7,644.1 2219.4,645.7 2224.6,647.7C2229.8,649.7 2234.4,653.2 2237,655.6C2239.6,658 2241.3,659.7 2240.3,661.8C2239.3,663.9 2232.9,665.4 2230.8,668C2228.7,670.6 2230.6,674.3 2227.7,677.5C2224.8,680.7 2218.6,685.2 2213.6,687C2208.6,688.8 2203,688.8 2197.9,688.5C2192.8,688.2 2186.7,687.8 2183,685C2179.3,682.2 2177.1,676.7 2176,672C2174.9,667.3 2175.2,661.3 2176.3,657Z" fill="#000"/>
<path d="M2249.7,649.3C2250.5,644.8 2252.3,637.5 2256,633.6C2259.7,629.7 2265.7,627 2271.7,625.7C2277.7,624.4 2285.2,624.9 2292,625.7C2298.8,626.5 2306.7,628 2312.5,630.4C2318.3,632.8 2323.5,636.4 2326.7,639.8C2329.8,643.2 2331.2,646.9 2331.4,650.8C2331.7,654.7 2330.3,659.2 2328.2,663.4C2326.1,667.6 2321.7,673.4 2318.8,676C2315.9,678.6 2314.1,680.8 2311,679C2307.9,677.2 2304.3,669 2300,665C2295.7,661 2290,655.8 2285,655C2280,654.2 2273.8,656.7 2270,660C2266.2,663.3 2264.3,672.9 2262,675C2259.7,677.1 2257.8,675.2 2256,672.8C2254.2,670.3 2252.4,664.2 2251.3,660.3C2250.2,656.4 2248.9,653.8 2249.7,649.3Z" fill="#000"/>
<path d="M2300,710.5C2302.1,705.8 2306,698.2 2309.4,694.8C2312.8,691.4 2317,689.7 2320.4,690C2323.8,690.3 2327.7,693.5 2329.8,696.4C2331.9,699.3 2333.5,703.5 2333,707.4C2332.5,711.3 2329.1,715.8 2326.7,720C2324.3,724.2 2323.2,729.9 2318.8,732.5C2314.4,735.1 2304.7,735.5 2300,735.7C2295.3,736 2291,736.1 2290.5,734C2290,731.9 2295.2,726.9 2296.8,723C2298.4,719.1 2297.9,715.2 2300,710.5Z" fill="#000"/>
<ellipse cx="2287" cy="680" rx="20" ry="17" fill="#4a4a4a" />
<ellipse cx="2303" cy="765.5" rx="9" ry="8" fill="#000" />
<ellipse cx="2284.2" cy="740" rx="6" ry="5" fill="#000" />
<ellipse cx="2296" cy="752" rx="14" ry="12" fill="#555" />
<ellipse cx="2312.5" cy="784.3" rx="4" ry="4" fill="#000" />
<ellipse cx="2019.2" cy="759.2" rx="6" ry="4" fill="#222" />
<path d="M2180,757C2195,765 2210.4,775 2229.3,790.6C2245,806 2252.8,814.2 2271.7,830C2292,851 2323.5,862 2334.5,865.3" stroke="#d6d6d6" stroke-width="15" fill="none" stroke-linecap="round"/>
<path d="M2140,765C2160,745 2200,748 2225,770" stroke="#a6a6a6" stroke-width="13" fill="none" stroke-linecap="round"/>
<ellipse cx="2118.2" cy="829" rx="19" ry="12.5" fill="#c8c8c8" transform="rotate(-28 2118.2 829)" />
<ellipse cx="2157.4" cy="866.8" rx="16" ry="27" fill="#c4c4c4" transform="rotate(14 2157.4 866.8)" />
<ellipse cx="2216.7" cy="862" rx="20" ry="17" fill="#c9c9c9" />
<ellipse cx="2177.9" cy="775" rx="6" ry="6" fill="#d6d6d6" />
<ellipse cx="2163.7" cy="798.5" rx="6" ry="6" fill="#d6d6d6" />
<ellipse cx="2124.5" cy="789" rx="5" ry="5" fill="#d6d6d6" />
<ellipse cx="2190" cy="770" rx="5" ry="5" fill="#d6d6d6" />
<ellipse cx="2147" cy="812" rx="5" ry="5" fill="#d6d6d6" />
<ellipse cx="2152" cy="760" rx="4" ry="4" fill="#d6d6d6" />
<path d="M2023.9,857.4C2035,862 2055,860 2071,848" stroke="#fff" stroke-width="7.5" fill="none" stroke-linecap="round"/>
<ellipse cx="2012.9" cy="852.7" rx="3" ry="3" fill="#fff" />
<ellipse cx="2198.8" cy="910" rx="39" ry="29" fill="#f8f8f8" />
<ellipse cx="2198.8" cy="911" rx="32" ry="22.5" fill="#b8b8b8" />
<path d="M2163,930C2148,945 2143,975 2155,990L2170,996L2183,985L2190,998L2193,1008L2203,1008L2210,998L2222,985L2240,975L2258,972C2262,955 2250,945 2236,930Z" fill="#f8f8f8"/>
<ellipse cx="2201" cy="962.6" rx="18" ry="13.5" fill="#565656" />
<ellipse cx="1927.3" cy="732.5" rx="7.5" ry="16" fill="#fdfdfd" transform="rotate(27 1927.3 732.5)" />
<ellipse cx="1897.5" cy="830" rx="5.5" ry="20" fill="#fdfdfd" transform="rotate(2 1897.5 830)" />
<path d="M1923.4,943.8C1935,960 1950,975 1964.2,987.8" stroke="#fdfdfd" stroke-width="9" fill="none" stroke-linecap="round"/>
<ellipse cx="2056.1" cy="1020.8" rx="20" ry="8" fill="#fdfdfd" />
<ellipse cx="2337.6" cy="1002.7" rx="17" ry="7" fill="#fdfdfd" transform="rotate(-3 2337.6 1002.7)" />
<path d="M2400.5,983C2414,972 2426,960 2435,948.5" stroke="#fdfdfd" stroke-width="8" fill="none" stroke-linecap="round"/>
<path d="M2465,806C2469,825 2472,840 2472.5,858" stroke="#fdfdfd" stroke-width="8" fill="none" stroke-linecap="round"/>
<path d="M2410,688.5C2420,700 2430,711 2436.6,721.5" stroke="#fdfdfd" stroke-width="8.5" fill="none" stroke-linecap="round"/>
<ellipse cx="2027" cy="647" rx="5" ry="2.5" fill="#eee" transform="rotate(-20 2027 647)" />
</g>
<path d="M2348.6,705.8C2353.2,704.3 2364.5,706.7 2370.6,709C2376.7,711.3 2388.5,718.8 2394.2,723C2399.9,727.2 2408.4,735.6 2413,740.4C2417.6,745.2 2425.3,754 2428.7,759.2C2432.1,764.4 2436.1,773.3 2438.2,779.6C2440.3,785.9 2442.8,799.6 2444.5,806.3C2446.2,813 2449.7,824.7 2450.7,830C2451.7,835.3 2452.5,840 2452.3,846.4C2452.1,852.8 2450.7,869.4 2449.2,877.8C2447.7,886.2 2444,901.2 2441.3,909.2C2438.6,917.2 2432.9,930.2 2428.7,937.5C2424.5,944.8 2414.6,958.5 2410,964.2C2405.4,969.9 2398,976.9 2394.2,980C2390.4,983.1 2385.8,987.6 2381.6,987.8C2377.4,988 2368.5,984.4 2362.8,981.5C2357.1,978.6 2345.5,970.2 2339.2,965.8C2332.9,961.4 2321.4,953.1 2315.7,948.5C2310,943.9 2301.2,935.6 2296.8,931.2C2292.4,926.8 2285.4,919.7 2282.7,915.5C2280,911.3 2276.8,903.8 2276.4,899.8C2276,895.8 2277.6,888.6 2279.5,885.7C2281.4,882.8 2286.1,879.9 2290.5,877.8C2294.9,875.7 2307,871.5 2312.5,870C2318,868.5 2327.8,868.3 2331.4,866.8C2335,865.3 2338.4,862.8 2339.2,859C2340,855.2 2337,844.6 2337.6,838.6C2338.2,832.6 2342.3,819.5 2344,814.2C2345.7,808.9 2349.4,802.7 2350.2,798.5C2351,794.3 2350.8,787 2350.2,782.8C2349.6,778.6 2347,771.2 2345.5,767C2344,762.8 2340.7,755.6 2339.2,751.4C2337.7,747.2 2334.9,739.9 2334.5,735.7C2334.1,731.5 2334.1,724 2336,720C2337.9,716 2344,707.3 2348.6,705.8Z" fill="#9fbd9c" filter="url(#c1)"/>
</g>
<rect x="2628.0" y="617.9" width="634.4000000000001" height="415.1" fill="url(#sky)"/>
<defs><clipPath id="cs"><path d="M2935.1,654.1C2942.4,651.3 2949.7,649.1 2957,648.6C2964.3,648.1 2971.5,648.4 2978.8,650.8C2986.1,653.2 2994.2,659 3000.7,662.8C3007.3,666.7 3013.5,668.3 3018.2,673.8C3023,679.2 3025.2,687.6 3029.2,695.7C3033.2,703.7 3039.8,713.5 3042.3,721.9C3044.9,730.3 3043,738 3044.5,746C3046,754 3050.7,762.8 3051.1,770.1C3051.4,777.4 3049.2,783.9 3046.7,789.8C3044.1,795.6 3039.8,800.7 3035.7,805.1C3031.7,809.4 3027.3,812.4 3022.6,816C3017.9,819.7 3011.7,821.8 3007.3,827C3002.9,832.1 3001.1,840.8 2996.3,846.7C2991.6,852.5 2983.6,856.9 2978.8,862C2974.1,867.1 2971.5,872.2 2967.9,877.3C2964.3,882.4 2961.3,887.1 2957,892.6C2952.6,898.1 2945.6,902.8 2941.6,910.1C2937.6,917.4 2936.2,928.4 2932.9,936.4C2929.6,944.4 2925.6,951.7 2921.9,958.3C2918.3,964.8 2914.6,971.4 2911,975.8C2907.4,980.1 2904.4,983.1 2900.1,984.5C2895.7,986 2889.5,986 2884.7,984.5C2880,983.1 2876,980.1 2871.6,975.8C2867.2,971.4 2862.9,965.6 2858.5,958.3C2854.1,951 2849.4,941.1 2845.3,932C2841.3,922.9 2837.3,913.8 2834.4,903.5C2831.5,893.3 2829.5,881.7 2827.8,870.7C2826.2,859.8 2824.9,848.8 2824.6,837.9C2824.2,827 2824.7,816 2825.7,805.1C2826.6,794.1 2827.5,782.5 2830,772.2C2832.6,762 2836.6,752.9 2841,743.8C2845.3,734.7 2850.5,726.3 2856.3,717.5C2862.1,708.8 2869.4,698.6 2876,691.3C2882.6,684 2889.5,678.1 2895.7,673.8C2901.9,669.4 2906.6,668.3 2913.2,665C2919.8,661.7 2927.8,656.8 2935.1,654.1Z"/></clipPath></defs>
<path d="M2935.1,654.1C2942.4,651.3 2949.7,649.1 2957,648.6C2964.3,648.1 2971.5,648.4 2978.8,650.8C2986.1,653.2 2994.2,659 3000.7,662.8C3007.3,666.7 3013.5,668.3 3018.2,673.8C3023,679.2 3025.2,687.6 3029.2,695.7C3033.2,703.7 3039.8,713.5 3042.3,721.9C3044.9,730.3 3043,738 3044.5,746C3046,754 3050.7,762.8 3051.1,770.1C3051.4,777.4 3049.2,783.9 3046.7,789.8C3044.1,795.6 3039.8,800.7 3035.7,805.1C3031.7,809.4 3027.3,812.4 3022.6,816C3017.9,819.7 3011.7,821.8 3007.3,827C3002.9,832.1 3001.1,840.8 2996.3,846.7C2991.6,852.5 2983.6,856.9 2978.8,862C2974.1,867.1 2971.5,872.2 2967.9,877.3C2964.3,882.4 2961.3,887.1 2957,892.6C2952.6,898.1 2945.6,902.8 2941.6,910.1C2937.6,917.4 2936.2,928.4 2932.9,936.4C2929.6,944.4 2925.6,951.7 2921.9,958.3C2918.3,964.8 2914.6,971.4 2911,975.8C2907.4,980.1 2904.4,983.1 2900.1,984.5C2895.7,986 2889.5,986 2884.7,984.5C2880,983.1 2876,980.1 2871.6,975.8C2867.2,971.4 2862.9,965.6 2858.5,958.3C2854.1,951 2849.4,941.1 2845.3,932C2841.3,922.9 2837.3,913.8 2834.4,903.5C2831.5,893.3 2829.5,881.7 2827.8,870.7C2826.2,859.8 2824.9,848.8 2824.6,837.9C2824.2,827 2824.7,816 2825.7,805.1C2826.6,794.1 2827.5,782.5 2830,772.2C2832.6,762 2836.6,752.9 2841,743.8C2845.3,734.7 2850.5,726.3 2856.3,717.5C2862.1,708.8 2869.4,698.6 2876,691.3C2882.6,684 2889.5,678.1 2895.7,673.8C2901.9,669.4 2906.6,668.3 2913.2,665C2919.8,661.7 2927.8,656.8 2935.1,654.1Z" fill="#5e9569" stroke="#3a6445" stroke-width="1.6" filter="url(#c1)"/>
<g clip-path="url(#cs)">
<ellipse cx="2942" cy="800" rx="52" ry="100" fill="#82b98a" filter="url(#c6)" transform="rotate(12 2942 800)"/>
<ellipse cx="2990" cy="745" rx="36" ry="48" fill="#7db585" filter="url(#c6)"/>
<ellipse cx="2890" cy="900" rx="22" ry="60" fill="#7ab283" filter="url(#c6)"/>
<path transform="translate(2760,630) scale(0.21884)" d="M760,1180C850,1050 950,960 1080,890L1220,850L1080,1010L900,1230Z" fill="#4f8259" filter="url(#b4)"/>
<g transform="translate(2760,630) scale(0.21884)" stroke="#4a7b55" stroke-width="9" fill="none" filter="url(#b1)">
<path d="M700,190h400M650,240h480M620,285h460M600,330h300"/>
<path d="M1000,880h200M980,920h180M960,960h150M700,1180c80,-40 150,-80 200,-150M640,1250c80,-30 160,-70 220,-130"/>
<path d="M790,1280c30,40 30,100 -10,160" stroke="#2f5a3b" stroke-width="11"/>
</g>
</g>
<g font-family='"Liberation Sans", "Noto Sans CJK SC", sans-serif' fill="#000" text-anchor="middle">
<text x="713.6" y="569.8" font-size="103.8">nomal liver</text>
<text transform="translate(712.5,748.8) scale(1,1.045)" font-size="120">VS</text>
<text x="717.9" y="1353.7" font-size="103.2">liver with cirrhosis</text>
<text x="2574.2" y="1240.5" font-size="103.4">Liver and spleen volume</text>
<text x="686.9" y="2768.6" font-size="103.4">Nomogram model</text>
</g>
<g font-family='"Liberation Sans", "Noto Sans CJK SC", sans-serif' fill="#000" font-size="94.6">
<text x="1972.4" y="2793">nomogram model<tspan font-family='"Noto Sans CJK SC", sans-serif'>、</tspan>PPG reduction</text>
<text x="1973.9" y="2895.4">and four liver function scoring system</text>
</g>
<g font-family='"Noto Sans CJK SC", "Liberation Sans", sans-serif' fill="#000" font-size="52" font-weight="500" text-anchor="middle">
<text x="1921.7" y="59.5">（A）</text>
<text x="2677" y="58.5">（B）</text>
<text x="1921.7" y="601.5">（C）</text>
<text x="2677" y="601.5">（D）</text>
</g>
<g stroke="#111" stroke-width="2.4" fill="none" stroke-linecap="square">
<path d="M419.5,1888.2H1575.6M419.5,1888.2v-14M448.4,1888.2v-7M477.3,1888.2v-7M506.2,1888.2v-7M535.1,1888.2v-14M564,1888.2v-7M592.9,1888.2v-7M621.8,1888.2v-7M650.7,1888.2v-14M679.6,1888.2v-7M708.5,1888.2v-7M737.4,1888.2v-7M766.3,1888.2v-14M795.2,1888.2v-7M824.1,1888.2v-7M853,1888.2v-7M881.9,1888.2v-14M910.8,1888.2v-7M939.7,1888.2v-7M968.6,1888.2v-7M997.5,1888.2v-14M1026.5,1888.2v-7M1055.4,1888.2v-7M1084.3,1888.2v-7M1113.2,1888.2v-14M1142.1,1888.2v-7M1171,1888.2v-7M1199.9,1888.2v-7M1228.8,1888.2v-14M1257.7,1888.2v-7M1286.6,1888.2v-7M1315.5,1888.2v-7M1344.4,1888.2v-14M1373.3,1888.2v-7M1402.2,1888.2v-7M1431.1,1888.2v-7M1460,1888.2v-14M1488.9,1888.2v-7M1517.8,1888.2v-7M1546.7,1888.2v-7M1575.6,1888.2v-14M419.5,2017.7H767.5M419.5,2017.7v13.5M446.3,2017.7v13.5M473,2017.7v13.5M499.8,2017.7v13.5M526.6,2017.7v13.5M553.3,2017.7v13.5M580.1,2017.7v13.5M606.9,2017.7v13.5M633.7,2017.7v13.5M660.4,2017.7v13.5M687.2,2017.7v13.5M714,2017.7v13.5M740.7,2017.7v13.5M767.5,2017.7v13.5M419.5,2148H1080M419.5,2148v13.5M470.3,2148v13.5M521.1,2148v13.5M571.9,2148v13.5M622.7,2148v13.5M673.5,2148v13.5M724.3,2148v13.5M775.2,2148v13.5M826,2148v13.5M876.8,2148v13.5M927.6,2148v13.5M978.4,2148v13.5M1029.2,2148v13.5M1080,2148v13.5M419.5,2279.5H1575.6M419.5,2279.5v13.5M515.8,2279.5v13.5M612.2,2279.5v13.5M708.5,2279.5v13.5M804.9,2279.5v13.5M901.2,2279.5v13.5M997.5,2279.5v13.5M1093.9,2279.5v13.5M1190.2,2279.5v13.5M1286.6,2279.5v13.5M1382.9,2279.5v13.5M1479.3,2279.5v13.5M1575.6,2279.5v13.5M419.5,2408.1H1575.6M419.5,2408.1v13.5M448.4,2408.1v7M477.3,2408.1v7M506.2,2408.1v7M535.1,2408.1v7M564,2408.1v13.5M592.9,2408.1v7M621.8,2408.1v7M650.7,2408.1v7M679.6,2408.1v7M708.5,2408.1v13.5M737.4,2408.1v7M766.3,2408.1v7M795.2,2408.1v7M824.1,2408.1v7M853,2408.1v13.5M881.9,2408.1v7M910.8,2408.1v7M939.7,2408.1v7M968.6,2408.1v7M997.5,2408.1v13.5M1026.5,2408.1v7M1055.4,2408.1v7M1084.3,2408.1v7M1113.2,2408.1v7M1142.1,2408.1v13.5M1171,2408.1v7M1199.9,2408.1v7M1228.8,2408.1v7M1257.7,2408.1v7M1286.6,2408.1v13.5M1315.5,2408.1v7M1344.4,2408.1v7M1373.3,2408.1v7M1402.2,2408.1v7M1431.1,2408.1v13.5M1460,2408.1v7M1488.9,2408.1v7M1517.8,2408.1v7M1546.7,2408.1v7M1575.6,2408.1v13.5M952.9,2539.6H1317.9M952.9,2539.6v13.5M1064.2,2539.6v13.5M1135.8,2539.6v13.5M1206.6,2539.6v13.5M1317.9,2539.6v13.5"/>
</g>
<g font-family='"Liberation Sans", "Noto Sans CJK SC", sans-serif' fill="#111" font-size="35.4" text-anchor="middle" stroke="#111" stroke-width="0.4">
<text x="419.5" y="1857.2">0</text>
<text x="535.1" y="1857.2">10</text>
<text x="650.7" y="1857.2">20</text>
<text x="766.3" y="1857.2">30</text>
<text x="881.9" y="1857.2">40</text>
<text x="997.5" y="1857.2">50</text>
<text x="1113.2" y="1857.2">60</text>
<text x="1228.8" y="1857.2">70</text>
<text x="1344.4" y="1857.2">80</text>
<text x="1460" y="1857.2">90</text>
<text x="1575.6" y="1857.2">100</text>
<text x="419.5" y="2080.8">95</text>
<text x="499.8" y="2080.8">80</text>
<text x="580.1" y="2080.8">65</text>
<text x="660.4" y="2080.8">50</text>
<text x="740.7" y="2080.8">35</text>
<text x="419.5" y="2211.2">14</text>
<text x="521.1" y="2211.2">12</text>
<text x="622.7" y="2211.2">10</text>
<text x="724.3" y="2211.2">8</text>
<text x="775.2" y="2211.2">7</text>
<text x="826" y="2211.2">6</text>
<text x="876.8" y="2211.2">5</text>
<text x="927.6" y="2211.2">4</text>
<text x="978.4" y="2211.2">3</text>
<text x="1029.2" y="2211.2">2</text>
<text x="1080" y="2211.2">1</text>
<text x="419.5" y="2341">0</text>
<text x="515.8" y="2341">2</text>
<text x="612.2" y="2341">4</text>
<text x="708.5" y="2341">6</text>
<text x="804.9" y="2341">8</text>
<text x="901.2" y="2341">10</text>
<text x="997.5" y="2341">12</text>
<text x="1093.9" y="2341">14</text>
<text x="1190.2" y="2341">16</text>
<text x="1286.6" y="2341">18</text>
<text x="1382.9" y="2341">20</text>
<text x="1479.3" y="2341">22</text>
<text x="1575.6" y="2341">24</text>
<text x="419.5" y="2471.6">0</text>
<text x="564" y="2471.6">20</text>
<text x="708.5" y="2471.6">40</text>
<text x="853" y="2471.6">60</text>
<text x="997.5" y="2471.6">80</text>
<text x="1142.1" y="2471.6">100</text>
<text x="1286.6" y="2471.6">120</text>
<text x="1431.1" y="2471.6">140</text>
<text x="1575.6" y="2471.6">160</text>
<text x="952.9" y="2602.6">0.1</text>
<text x="1064.2" y="2602.6">0.3</text>
<text x="1135.8" y="2602.6">0.5</text>
<text x="1206.6" y="2602.6">0.7</text>
<text x="1317.9" y="2602.6">0.9</text>
</g>
<g font-family='"Liberation Sans", "Noto Sans CJK SC", sans-serif' fill="#111" font-size="42.6" stroke="#111" stroke-width="0.5">
<text x="14.5" y="1907">Points</text>
<text x="14.5" y="2035.7">PPG Reduction</text>
<text x="14.5" y="2140">Right Hepatic Lobe</text>
<text x="14.5" y="2192">Volume</text>
<text x="14.5" y="2293.8">Spleen Volume</text>
<text x="14.5" y="2427.3">Total Points</text>
<text x="14.5" y="2558">Risk</text>
</g>
<path d="M2180,2450L2883,1746" stroke="#e8232b" stroke-width="1.7" stroke-dasharray="5.5,3.5" fill="none"/>
<g fill="none" stroke-linejoin="miter" stroke-linecap="butt">
<path d="M2180,2450L2183.5,2432.4L2206,2398.6L2232.7,2344.4L2244.7,2331L2254.5,2292.3L2269.3,2248.7L2286.2,2197.3L2326.9,2168.4L2365.6,2132.1L2414.1,2099.4L2477.4,2059.3L2504.8,2041.3L2520.1,1997.3L2531.1,1965.6L2559.6,1938.2L2612.3,1893.5L2664.1,1866.5L2680.5,1858.2L2719.9,1813.6L2734.5,1794.9L2738.9,1789.6L2759.3,1784.7L2798.6,1769.2L2842.2,1758.7L2845.4,1751.6L2854.9,1748.8L2883,1746" stroke="#f7bd8b" stroke-width="2.6"/>
<path d="M2180,2450L2194.1,2433.8L2194.1,2430.3L2206,2422.8L2206,2400.7L2219.9,2400.7L2219.9,2395.1L2234,2386.6L2234,2344.4L2246.1,2338.1L2246.1,2329.6L2260.6,2329.6L2260.6,2323.3L2273.9,2323.3L2273.9,2309.2L2287.2,2302.2L2287.2,2259.2L2300.2,2259.2L2300.2,2245.8L2313.6,2238.8L2313.6,2226.8L2327.6,2224.7L2327.6,2190.2L2341,2181.8L2341,2136.7L2368.4,2126.2L2368.4,2096.9L2394.9,2096.9L2394.9,2076.2L2409.6,2072L2409.6,2054.4L2415.1,2039.1L2423.9,2023.7L2435.9,2013.9L2436.9,2006.5L2450,1991L2450,1970L2463.3,1964.6L2463.3,1942.6L2476.3,1935.7L2503.7,1935.7L2517.9,1929.7L2544.2,1922.7L2571.9,1922L2571.9,1886.2L2585.3,1877.9L2610.2,1872.2L2626.8,1872.2L2651.7,1865.7L2666.1,1864.5L2666.1,1842.7L2680.5,1829.1L2680.5,1822.9L2706.5,1822.9L2706.5,1815.7L2721.1,1815.7L2721.1,1808.4L2734.5,1808.4L2734.5,1788.7L2759.4,1788.7L2776,1782.6L2784.3,1781.2L2801.9,1781.2L2801.9,1766.9L2815.4,1763.8L2815.4,1752.3L2828.9,1752.3L2828.9,1746L2883,1746" stroke="#000" stroke-width="2.8"/>
<path d="M2180,2450L2206,2398.6L2230.3,2371.9L2244.7,2350L2247.1,2345.1L2247.3,2309.2L2286.2,2294.4L2300.2,2272.6L2305.1,2250.8L2312.6,2224L2315,2214.2L2326.9,2190.2L2341.7,2166.3L2355.8,2144.5L2370.5,2127.2L2390.2,2102.9L2412,2069.1L2416.9,2058.8L2423.9,2023.7L2435.9,1991L2450,1969.2L2471.7,1940.4L2491.4,1913.1L2539.7,1900.9L2559.6,1893.3L2664.1,1865.7L2672.1,1859.3L2697.3,1824.1L2705.5,1817.8L2759.3,1794.9L2784.3,1782.6L2800.7,1767.1L2815.4,1762.9L2842.2,1757.6L2850.7,1751.6L2854.9,1746.1L2883,1746" stroke="#0aa50a" stroke-width="3.2"/>
<path d="M2180,2450L2206,2398.6L2235.2,2331L2259.4,2272.6L2288.3,2197.3L2326.9,2168.4L2365.6,2132.1L2414.1,2091L2457.7,2059.3L2559.6,1976.9L2773.9,1801.1L2883,1746" stroke="#0505fb" stroke-width="2.8"/>
<path d="M2180,2450L2180,2350L2183.2,2338.1L2194.1,2314.1L2206,2295.8L2220.8,2272.6L2234.1,2245.8L2247.5,2235.3L2259.4,2225.4L2260.8,2212L2274.2,2190.2L2288.3,2185.3L2307.9,2178.3L2326.9,2167L2341,2167L2341.7,2131.8L2355.8,2131.8L2370.5,2128.3L2385.3,2111.4L2399.8,2088.1L2412,2069.8L2423.9,2059.3L2435.9,2045.2L2463.3,2020.6L2491.4,2012.8L2515.8,1999.7L2539.7,1993.1L2558.2,1985.4L2573,1971.3L2612.3,1949.5L2665.1,1928.8L2666.5,1915.3L2680.5,1900.2L2719.9,1893.5L2747,1879.8L2761.4,1879.8L2774.9,1839.6L2776,1832.2L2801.9,1801.1L2802.9,1786.8L2854.9,1759.7L2855.8,1746.1L2883,1746" stroke="#5a0a96" stroke-width="3.2"/>
<path d="M2180,2450L2180,2393.7L2193.7,2393.7L2193.7,2175.4L2207.1,2175.4L2207.1,2027.6L2220.8,2027.6L2220.8,1985.4L2234.1,1985.4L2234.1,1971.3L2248.2,1971.3L2248.2,1964.2L2274.9,1964.2L2274.9,1957.2L2355.8,1957.2L2355.8,1929L2369.1,1929L2369.1,1900.9L2382.5,1900.9L2382.5,1872.7L2396.5,1872.7L2396.5,1865.7L2461.2,1865.7L2461.2,1851.6L2475.3,1851.6L2475.3,1844.6L2503.4,1844.6L2503.4,1830.5L2545.2,1830.5L2545.2,1795.3L2558.9,1795.3L2558.9,1774.2L2571.9,1774.2L2571.9,1767.1L2612.3,1767.1L2612.3,1760.1L2625.7,1760.1L2625.7,1753L2721.1,1753L2721.1,1746L2883,1746" stroke="#fb0207" stroke-width="3.2"/>
</g>
<g stroke="#000" stroke-width="7" fill="none" stroke-linecap="butt">
<path d="M2180,1742.5V2479M2149.5,2450H2886.5M2320.6,2450v29M2180,2309.2h-30.5M2461.2,2450v29M2180,2168.4h-30.5M2601.8,2450v29M2180,2027.6h-30.5M2742.4,2450v29M2180,1886.8h-30.5M2883,2450v29M2180,1746h-30.5"/>
</g>
<g font-family='"Liberation Sans", "Noto Sans CJK SC", sans-serif' font-weight="bold" fill="#000">
<text x="2180" y="2540" font-size="54" text-anchor="middle">0.0</text>
<text x="2143.5" y="2470" font-size="54" text-anchor="end">0.0</text>
<text x="2320.6" y="2540" font-size="54" text-anchor="middle">0.2</text>
<text x="2143.5" y="2329.2" font-size="54" text-anchor="end">0.2</text>
<text x="2461.2" y="2540" font-size="54" text-anchor="middle">0.4</text>
<text x="2143.5" y="2188.4" font-size="54" text-anchor="end">0.4</text>
<text x="2601.8" y="2540" font-size="54" text-anchor="middle">0.6</text>
<text x="2143.5" y="2047.6" font-size="54" text-anchor="end">0.6</text>
<text x="2742.4" y="2540" font-size="54" text-anchor="middle">0.8</text>
<text x="2143.5" y="1906.8" font-size="54" text-anchor="end">0.8</text>
<text x="2883" y="2540" font-size="54" text-anchor="middle">1.0</text>
<text x="2143.5" y="1766" font-size="54" text-anchor="end">1.0</text>
<text x="2531.5" y="2624" font-size="57.5" text-anchor="middle">1 - Specificity</text>
<text transform="translate(2035.5,2098.5) rotate(-90)" font-size="57.5" text-anchor="middle">Sensitivity</text>
</g>
<g font-family='"Liberation Sans", "Noto Sans CJK SC", sans-serif' fill="#000" font-size="38.9">
<path d="M2651.5,2048H2726.5" stroke="#fb0207" stroke-width="2.8"/>
<text x="2769" y="2061.6">Present model AUC=0.854 (0.792-0.915)</text>
<path d="M2651.5,2119.6H2726.5" stroke="#5a0a96" stroke-width="2.8"/>
<text x="2769" y="2133.2">PPG reduction AUC=0.625 (0.537-0.714)</text>
<path d="M2651.5,2191.1H2726.5" stroke="#0505fb" stroke-width="2.8"/>
<text x="2769" y="2204.7">Child-Pugh grade AUC=0.619 (0.527-0.710)</text>
<path d="M2651.5,2262.7H2726.5" stroke="#0aa50a" stroke-width="2.8"/>
<text x="2769" y="2276.2">MELD AUC=0.653 (0.558-0.748)</text>
<path d="M2651.5,2334.2H2726.5" stroke="#000" stroke-width="2.8"/>
<text x="2769" y="2347.8">MELD-Na AUC=0.652 (0.557-0.747)</text>
<path d="M2651.5,2405.8H2726.5" stroke="#f7bd8b" stroke-width="2.8"/>
<text x="2769" y="2419.3">MELD 3.0 AUC=0.631 (0.538-0.724)</text>
</g>
</svg></body></html>
